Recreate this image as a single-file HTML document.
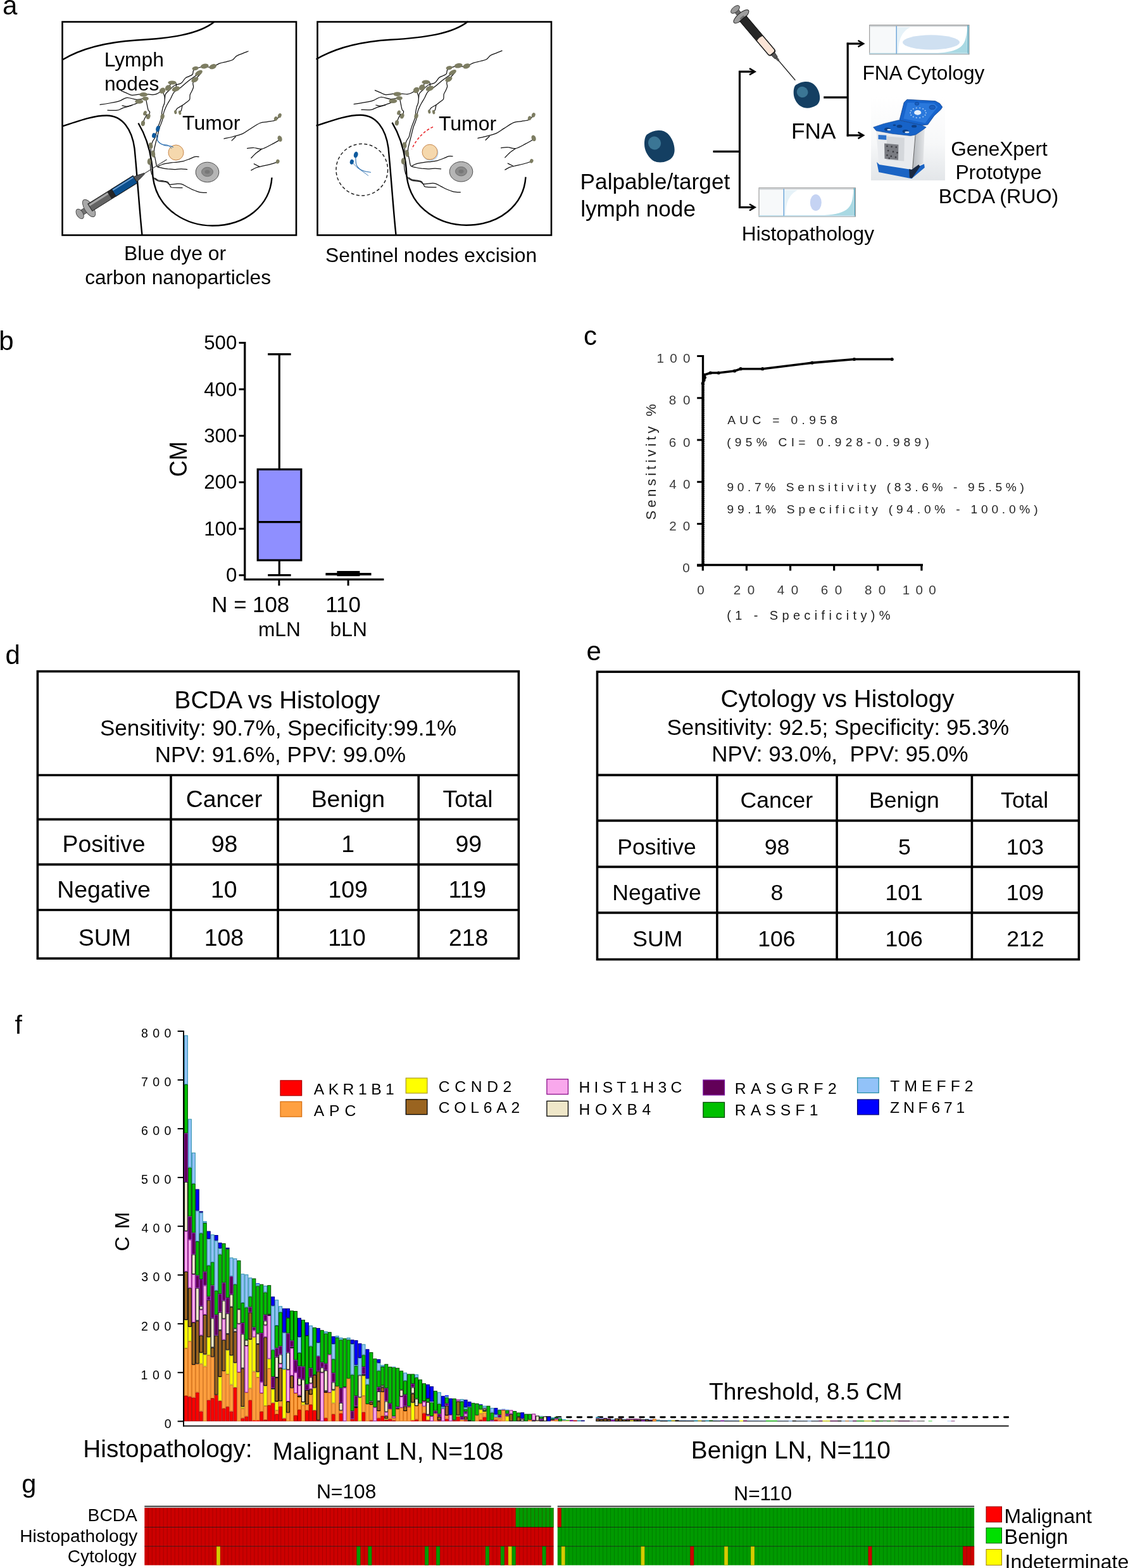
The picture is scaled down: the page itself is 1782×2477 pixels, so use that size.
<!DOCTYPE html><html><head><meta charset="utf-8"><title>Figure</title><style>html,body{margin:0;padding:0;background:#fff}::-webkit-scrollbar{display:none}svg{display:block}text{font-family:"Liberation Sans",Arial,sans-serif;white-space:pre}</style></head><body>
<svg width="1782" height="2477" viewBox="0 0 1782 2477">
<rect width="1782" height="2477" fill="#fff"/>
<text x="4.12" y="23.30" font-size="42.00" fill="#000">a</text>
<rect x="98.5" y="34.5" width="369.5" height="337.0" fill="none" stroke="#000" stroke-width="2.6"/>
<rect x="501.5" y="34.5" width="369.5" height="337.0" fill="none" stroke="#000" stroke-width="2.6"/>
<g transform="translate(98.5,34.5)">
<path d="M0,60 C30,42 70,32 117,29 C170,26 215,20 240,0" fill="none" stroke="#000" stroke-width="2.4"/>
<path d="M0,165 C30,155 50,148 70,148 C95,148 110,170 114,200 C118,240 122,300 126,337" fill="none" stroke="#000" stroke-width="2.4"/>
<path d="M120,160 C135,185 142,215 143,245 C150,300 200,322 237,322 C290,322 328,290 331,246" fill="none" stroke="#000" stroke-width="2.4"/>
<path d="M293.6,46.5 C292.1,47.1 287.5,48.8 284.4,50.1 C281.4,51.3 277.8,52.2 275.3,53.9 C272.7,55.5 271.7,58.5 269.1,60.0 C266.6,61.5 263.3,61.9 259.9,62.8 C256.6,63.7 252.0,64.4 249.2,65.4 C246.4,66.3 245.0,67.5 243.1,68.4 C241.2,69.3 239.8,70.2 237.7,70.7 C235.7,71.2 233.0,71.6 230.8,71.5 C228.7,71.4 226.7,70.0 224.7,70.0 C222.7,70.0 221.0,70.9 218.6,71.5 C216.1,72.1 211.6,73.4 210.1,73.8" fill="none" stroke="#111" stroke-width="1.25" stroke-linejoin="round" stroke-linecap="round"/>
<path d="M210.1,74.6 C209.6,74.9 207.8,75.5 207.1,76.9 C206.3,78.3 206.7,81.5 205.6,83.0 C204.4,84.5 202.1,85.0 200.2,86.1 C198.3,87.1 196.1,87.3 194.1,89.1 C192.0,90.9 190.5,95.0 187.9,96.8 C185.4,98.6 181.0,98.8 178.7,99.8 C176.4,100.9 175.7,101.6 174.1,102.9 C172.6,104.2 171.3,105.7 169.5,107.5 C167.8,109.3 164.7,111.3 163.4,113.6 C162.1,115.9 162.3,118.7 161.9,121.3 C161.5,123.8 161.6,126.7 161.1,129.0 C160.6,131.2 159.5,132.8 158.8,135.1 C158.2,137.4 157.7,140.2 157.3,142.7 C156.9,145.3 157.0,147.8 156.5,150.4 C156.0,153.0 155.1,155.5 154.2,158.1 C153.3,160.6 152.1,163.2 151.2,165.7 C150.3,168.3 149.6,170.6 148.9,173.4 C148.1,176.2 147.6,180.0 146.6,182.6 C145.5,185.1 143.8,186.4 142.7,188.7 C141.7,191.0 141.0,193.8 140.4,196.4 C139.9,198.9 139.9,200.2 139.7,204.0 C139.4,207.9 138.9,214.2 138.9,219.3 C138.9,224.4 138.9,230.3 139.7,234.7 C140.4,239.0 141.6,242.6 143.5,245.4 C145.4,248.2 147.8,250.2 151.2,251.5 C154.5,252.8 160.4,252.0 163.4,253.0 C166.5,254.1 168.0,256.2 169.5,257.6 C171.1,259.0 169.3,260.7 172.6,261.5 C175.9,262.2 186.7,262.1 189.5,262.2" fill="none" stroke="#111" stroke-width="1.25" stroke-linejoin="round" stroke-linecap="round"/>
<path d="M218.6,79.9 C217.0,80.9 212.7,83.8 209.4,86.1 C206.1,88.4 202.2,90.9 198.7,93.7 C195.1,96.5 190.7,100.6 187.9,102.9 C185.1,105.2 183.8,106.0 181.8,107.5 C179.8,109.0 177.5,109.8 175.7,112.1 C173.9,114.4 172.6,118.5 171.1,121.3 C169.5,124.1 167.8,126.7 166.5,129.0 C165.2,131.2 164.4,132.8 163.4,135.1 C162.4,137.4 161.1,139.9 160.4,142.7 C159.6,145.5 159.5,149.1 158.8,151.9 C158.2,154.7 157.4,157.0 156.5,159.6 C155.6,162.1 154.4,164.4 153.5,167.3 C152.6,170.1 151.9,173.4 151.2,176.4 C150.4,179.5 149.6,182.6 148.9,185.6 C148.1,188.7 147.2,192.0 146.6,194.8 C145.9,197.6 145.2,199.7 145.0,202.5 C144.9,205.3 145.4,208.9 145.8,211.7 C146.2,214.5 146.7,216.5 147.3,219.3 C148.0,222.1 148.0,226.6 149.6,228.5 C151.3,230.4 154.5,230.2 157.3,230.8 C160.1,231.5 162.9,232.0 166.5,232.4 C170.1,232.7 175.2,233.1 178.7,233.1 C182.3,233.1 184.9,232.4 187.9,232.4 C191.0,232.4 195.6,233.0 197.1,233.1" fill="none" stroke="#111" stroke-width="1.25" stroke-linejoin="round" stroke-linecap="round"/>
<path d="M218.6,81.5 C217.0,83.2 211.4,89.6 209.4,92.2 C207.3,94.7 206.7,95.0 206.3,96.8 C205.9,98.6 207.3,100.9 207.1,102.9 C206.8,105.0 205.7,107.0 204.8,109.0 C203.9,111.1 202.4,112.9 201.7,115.2 C201.1,117.5 202.0,120.8 201.0,122.8 C199.9,124.9 197.5,125.9 195.6,127.4 C193.7,129.0 191.8,130.5 189.5,132.0 C187.2,133.5 183.6,135.1 181.8,136.6 C180.0,138.1 179.3,140.4 178.7,141.2" fill="none" stroke="#111" stroke-width="1.25" stroke-linejoin="round" stroke-linecap="round"/>
<path d="M189.5,132.0 C189.2,133.3 188.6,137.9 187.9,139.7 C187.3,141.5 186.0,142.2 185.6,142.7" fill="none" stroke="#111" stroke-width="1.25" stroke-linejoin="round" stroke-linecap="round"/>
<path d="M157.3,109.0 C156.0,109.8 151.9,112.6 149.6,113.6 C147.3,114.7 145.8,115.0 143.5,115.2 C141.2,115.3 138.1,114.4 135.8,114.4 C133.5,114.4 132.0,115.2 129.7,115.2 C127.4,115.2 125.4,114.3 122.1,114.4 C118.7,114.5 113.4,116.3 109.8,115.9 C106.2,115.5 103.4,113.2 100.6,112.1 C97.8,111.0 94.2,109.5 92.9,109.0" fill="none" stroke="#111" stroke-width="1.25" stroke-linejoin="round" stroke-linecap="round"/>
<path d="M131.2,120.5 C128.9,120.9 122.3,123.0 117.5,122.8 C112.6,122.7 106.7,119.4 102.1,119.8 C97.5,120.1 95.0,123.6 89.9,125.1 C84.8,126.7 76.6,128.0 71.5,129.0 C66.4,129.9 61.5,130.5 59.6,130.8" fill="none" stroke="#111" stroke-width="1.25" stroke-linejoin="round" stroke-linecap="round"/>
<path d="M120.5,127.4 C119.2,127.9 115.9,129.5 112.9,130.5 C109.8,131.5 105.2,133.2 102.1,133.5 C99.1,133.9 95.8,132.5 94.5,132.3" fill="none" stroke="#111" stroke-width="1.25" stroke-linejoin="round" stroke-linecap="round"/>
<path d="M109.8,132.0 C107.2,132.8 98.3,135.3 94.5,136.6 C90.7,137.9 90.6,139.2 86.8,139.7 C83.0,140.2 74.1,139.7 71.5,139.7" fill="none" stroke="#111" stroke-width="1.25" stroke-linejoin="round" stroke-linecap="round"/>
<path d="M132.0,122.1 C132.4,124.0 133.7,130.6 134.3,133.5 C135.0,136.5 135.2,138.1 135.8,139.7 C136.5,141.2 138.1,141.2 138.1,142.7 C138.1,144.3 136.7,148.1 135.8,148.9 C135.0,149.6 133.7,148.1 132.8,147.3 C131.9,146.6 130.9,144.8 130.5,144.3" fill="none" stroke="#111" stroke-width="1.25" stroke-linejoin="round" stroke-linecap="round"/>
<path d="M133.5,146.6 C132.9,147.7 130.7,151.2 129.7,153.5 C128.7,155.8 127.8,159.2 127.4,160.4" fill="none" stroke="#111" stroke-width="1.25" stroke-linejoin="round" stroke-linecap="round"/>
<path d="M215.5,213.2 C214.5,213.2 211.7,212.7 209.4,213.2 C207.1,213.7 204.8,215.1 201.7,216.3 C198.7,217.4 194.3,219.2 191.0,220.1 C187.7,221.0 184.9,221.3 181.8,221.6 C178.7,222.0 175.7,222.0 172.6,222.4 C169.5,222.8 166.0,223.4 163.4,223.9 C160.9,224.4 159.3,224.7 157.3,225.5 C155.2,226.2 152.2,228.0 151.2,228.5" fill="none" stroke="#111" stroke-width="1.25" stroke-linejoin="round" stroke-linecap="round"/>
<path d="M227.8,269.9 C226.0,269.8 220.6,269.9 217.0,269.1 C213.5,268.4 209.6,266.7 206.3,265.3 C203.0,263.9 200.2,262.2 197.1,260.7 C194.1,259.2 191.0,256.9 187.9,256.1 C184.9,255.3 181.8,256.0 178.7,256.1 C175.7,256.2 171.6,257.4 169.5,256.9 C167.5,256.4 168.0,253.9 166.5,253.0 C165.0,252.2 162.9,252.0 160.4,251.5 C157.8,251.0 153.5,250.7 151.2,250.0 C148.9,249.2 147.3,247.4 146.6,246.9" fill="none" stroke="#111" stroke-width="1.25" stroke-linejoin="round" stroke-linecap="round"/>
<path d="M167.2,104.4 C168.3,103.0 171.3,97.3 173.4,96.0 C175.4,94.7 178.5,95.1 179.5,96.8 C180.5,98.4 179.5,104.4 179.5,106.0" fill="none" stroke="#111" stroke-width="1.25" stroke-linejoin="round" stroke-linecap="round"/>
<path d="M158.1,108.7 C158.6,110.1 160.5,114.6 161.1,116.7 C161.8,118.8 161.8,120.5 161.9,121.3" fill="none" stroke="#111" stroke-width="1.25" stroke-linejoin="round" stroke-linecap="round"/>
<path d="M255.4,184.6 C257.7,184.0 264.3,182.8 269.1,181.5 C274.0,180.2 279.9,178.9 284.5,176.9 C289.1,174.9 292.1,172.0 296.7,169.2 C301.3,166.4 307.4,161.9 312.0,160.0 C316.6,158.2 320.2,158.7 324.3,157.9 C328.4,157.1 333.5,156.9 336.5,155.5 C339.6,154.0 341.7,150.3 342.7,149.3" fill="none" stroke="#111" stroke-width="1.25" stroke-linejoin="round" stroke-linecap="round"/>
<path d="M267.6,187.6 L273.7,181.5" fill="none" stroke="#111" stroke-width="1.25" stroke-linejoin="round" stroke-linecap="round"/>
<path d="M292.1,199.9 C293.9,199.7 299.0,198.8 302.8,199.0 C306.7,199.1 310.5,201.7 315.1,200.8 C319.7,199.9 325.6,196.2 330.4,193.7 C335.3,191.3 341.9,187.4 344.2,186.1" fill="none" stroke="#111" stroke-width="1.25" stroke-linejoin="round" stroke-linecap="round"/>
<path d="M315.1,200.8 C313.6,201.9 308.7,205.1 305.9,207.5 C303.1,209.9 299.5,213.9 298.3,215.2" fill="none" stroke="#111" stroke-width="1.25" stroke-linejoin="round" stroke-linecap="round"/>
<path d="M298.3,234.5 C299.5,233.8 303.4,231.5 305.9,230.5 C308.5,229.5 310.0,229.2 313.6,228.4 C317.1,227.5 322.9,226.5 327.4,225.3 C331.8,224.1 338.1,222.0 340.2,221.3" fill="none" stroke="#111" stroke-width="1.25" stroke-linejoin="round" stroke-linecap="round"/>
<path d="M312.0,229.0 L302.8,224.4" fill="none" stroke="#111" stroke-width="1.25" stroke-linejoin="round" stroke-linecap="round"/>
<ellipse cx="224.7" cy="70.0" rx="6.5" ry="3.8" transform="rotate(-10 224.7 70.0)" fill="#7d7d62"/>
<ellipse cx="237.7" cy="70.7" rx="6.0" ry="3.8" transform="rotate(-20 237.7 70.7)" fill="#7d7d62"/>
<ellipse cx="210.1" cy="73.5" rx="5.1" ry="3.1" transform="rotate(-10 210.1 73.5)" fill="#7d7d62"/>
<ellipse cx="215.5" cy="80.7" rx="6.5" ry="3.4" transform="rotate(-30 215.5 80.7)" fill="#7d7d62"/>
<ellipse cx="209.4" cy="91.4" rx="6.0" ry="3.8" transform="rotate(-30 209.4 91.4)" fill="#7d7d62"/>
<ellipse cx="173.4" cy="96.0" rx="6.5" ry="3.1" transform="rotate(0 173.4 96.0)" fill="#7d7d62"/>
<ellipse cx="167.2" cy="104.4" rx="5.1" ry="4.3" transform="rotate(-40 167.2 104.4)" fill="#7d7d62"/>
<ellipse cx="158.1" cy="108.7" rx="5.1" ry="4.3" transform="rotate(-40 158.1 108.7)" fill="#7d7d62"/>
<ellipse cx="179.5" cy="106.0" rx="6.5" ry="3.8" transform="rotate(-20 179.5 106.0)" fill="#7d7d62"/>
<ellipse cx="128.2" cy="114.9" rx="6.5" ry="3.4" transform="rotate(0 128.2 114.9)" fill="#7d7d62"/>
<ellipse cx="131.2" cy="121.3" rx="5.1" ry="3.1" transform="rotate(0 131.2 121.3)" fill="#7d7d62"/>
<ellipse cx="121.3" cy="125.9" rx="6.5" ry="3.4" transform="rotate(0 121.3 125.9)" fill="#7d7d62"/>
<ellipse cx="130.5" cy="144.3" rx="2.6" ry="3.8" transform="rotate(20 130.5 144.3)" fill="#7d7d62"/>
<ellipse cx="135.8" cy="149.6" rx="3.1" ry="4.3" transform="rotate(20 135.8 149.6)" fill="#7d7d62"/>
<ellipse cx="127.4" cy="160.4" rx="3.1" ry="4.3" transform="rotate(10 127.4 160.4)" fill="#7d7d62"/>
<ellipse cx="158.1" cy="149.6" rx="3.1" ry="4.3" transform="rotate(15 158.1 149.6)" fill="#7d7d62"/>
<ellipse cx="178.7" cy="142.7" rx="2.1" ry="3.1" transform="rotate(-10 178.7 142.7)" fill="#7d7d62"/>
<ellipse cx="185.6" cy="143.5" rx="2.1" ry="3.4" transform="rotate(-10 185.6 143.5)" fill="#7d7d62"/>
<ellipse cx="139.7" cy="195.6" rx="3.1" ry="4.8" transform="rotate(-10 139.7 195.6)" fill="#7d7d62"/>
<ellipse cx="143.5" cy="208.6" rx="3.1" ry="5.7" transform="rotate(-10 143.5 208.6)" fill="#7d7d62"/>
<ellipse cx="137.4" cy="220.9" rx="3.1" ry="5.1" transform="rotate(0 137.4 220.9)" fill="#7d7d62"/>
<ellipse cx="343.3" cy="148.1" rx="2.8" ry="3.7" transform="rotate(20 343.3 148.1)" fill="#7d7d62"/>
<ellipse cx="337.2" cy="153.0" rx="2.8" ry="3.4" transform="rotate(20 337.2 153.0)" fill="#7d7d62"/>
<ellipse cx="343.6" cy="184.6" rx="3.4" ry="4.9" transform="rotate(-20 343.6 184.6)" fill="#7d7d62"/>
<ellipse cx="340.2" cy="220.7" rx="2.8" ry="3.4" transform="rotate(20 340.2 220.7)" fill="#7d7d62"/>
<ellipse cx="229" cy="237.5" rx="18.3" ry="15.8" fill="#b5b5b5" stroke="#4d4d4d" stroke-width="1"/>
<ellipse cx="229" cy="237" rx="9" ry="7.2" fill="#8a8a8a" stroke="#666" stroke-width="0.8"/>
<ellipse cx="229" cy="237" rx="4" ry="3" fill="#777"/>
<circle cx="179.5" cy="206.5" r="12" fill="#f5d8ad" stroke="#c8874c" stroke-width="1"/>
<ellipse cx="150.9" cy="168.8" rx="3.1" ry="5" transform="rotate(15 150.9 168.8)" fill="#0d5a9e"/>
<ellipse cx="144.7" cy="179.5" rx="3.1" ry="3.9" transform="rotate(15 144.7 179.5)" fill="#0d5a9e"/>
<path d="M151.2,178.0 C151.0,179.5 149.9,184.9 150.4,187.2 C150.9,189.5 152.6,190.5 154.2,191.8 C155.9,193.0 158.6,194.2 160.4,194.8 C162.1,195.5 163.2,195.3 165.0,195.6 C166.7,195.8 169.4,196.0 171.1,196.4 C172.7,196.7 174.3,197.6 174.9,197.9" fill="none" stroke="#2a6eb0" stroke-width="1.1" stroke-linejoin="round" stroke-linecap="round"/>
<path d="M148.9,179.5 C149.0,180.7 148.2,184.1 149.6,186.4 C151.0,188.7 154.5,191.9 157.3,193.3 C160.1,194.7 163.9,193.7 166.5,194.8 C169.0,196.0 171.6,199.3 172.6,200.2" fill="none" stroke="#2a6eb0" stroke-width="0.9" stroke-linejoin="round" stroke-linecap="round"/>
</g>
<g transform="translate(126.2,337.9) rotate(-32.04)">
<rect x="0" y="-4.2" width="15" height="8.4" fill="#727272" stroke="#333" stroke-width="0.8"/>
<ellipse cx="0" cy="0" rx="5" ry="8.5" fill="#a3a3a3" stroke="#444" stroke-width="0.9"/>
<ellipse cx="17" cy="0" rx="7" ry="15.5" fill="#a8a8a8" stroke="#444" stroke-width="0.9"/>
<rect x="19" y="-6.6" width="84" height="13.2" fill="#646464" stroke="#222" stroke-width="1"/>
<rect x="20" y="-5.2" width="36" height="3" fill="#a8a8a8"/>
<rect x="55" y="-6.6" width="8" height="13.2" fill="#262626"/>
<rect x="63" y="-6.6" width="40" height="13.2" fill="#0b4f8e" stroke="#1a1a1a" stroke-width="1"/>
<rect x="64" y="-5.1" width="38" height="1.8" fill="#6d9ccc"/>
<path d="M103,-4.6 L111,-3.2 L116,-1.8 L120,-1 L120,1 L116,1.8 L111,3.2 L103,4.6 Z" fill="#555" stroke="#222" stroke-width="0.8"/>
<line x1="119" y1="0" x2="162" y2="0" stroke="#444" stroke-width="1.2"/>
</g>
<g transform="translate(499.5,33.7)">
<path d="M0,60 C30,42 70,32 117,29 C170,26 215,20 240,0" fill="none" stroke="#000" stroke-width="2.4"/>
<path d="M0,165 C30,155 50,148 70,148 C95,148 110,170 114,200 C118,240 122,300 126,337" fill="none" stroke="#000" stroke-width="2.4"/>
<path d="M120,160 C135,185 142,215 143,245 C150,300 200,322 237,322 C290,322 328,290 331,246" fill="none" stroke="#000" stroke-width="2.4"/>
<path d="M293.6,46.5 C292.1,47.1 287.5,48.8 284.4,50.1 C281.4,51.3 277.8,52.2 275.3,53.9 C272.7,55.5 271.7,58.5 269.1,60.0 C266.6,61.5 263.3,61.9 259.9,62.8 C256.6,63.7 252.0,64.4 249.2,65.4 C246.4,66.3 245.0,67.5 243.1,68.4 C241.2,69.3 239.8,70.2 237.7,70.7 C235.7,71.2 233.0,71.6 230.8,71.5 C228.7,71.4 226.7,70.0 224.7,70.0 C222.7,70.0 221.0,70.9 218.6,71.5 C216.1,72.1 211.6,73.4 210.1,73.8" fill="none" stroke="#111" stroke-width="1.25" stroke-linejoin="round" stroke-linecap="round"/>
<path d="M210.1,74.6 C209.6,74.9 207.8,75.5 207.1,76.9 C206.3,78.3 206.7,81.5 205.6,83.0 C204.4,84.5 202.1,85.0 200.2,86.1 C198.3,87.1 196.1,87.3 194.1,89.1 C192.0,90.9 190.5,95.0 187.9,96.8 C185.4,98.6 181.0,98.8 178.7,99.8 C176.4,100.9 175.7,101.6 174.1,102.9 C172.6,104.2 171.3,105.7 169.5,107.5 C167.8,109.3 164.7,111.3 163.4,113.6 C162.1,115.9 162.3,118.7 161.9,121.3 C161.5,123.8 161.6,126.7 161.1,129.0 C160.6,131.2 159.5,132.8 158.8,135.1 C158.2,137.4 157.7,140.2 157.3,142.7 C156.9,145.3 157.0,147.8 156.5,150.4 C156.0,153.0 155.1,155.5 154.2,158.1 C153.3,160.6 152.1,163.2 151.2,165.7 C150.3,168.3 149.6,170.6 148.9,173.4 C148.1,176.2 147.6,180.0 146.6,182.6 C145.5,185.1 143.8,186.4 142.7,188.7 C141.7,191.0 141.0,193.8 140.4,196.4 C139.9,198.9 139.9,200.2 139.7,204.0 C139.4,207.9 138.9,214.2 138.9,219.3 C138.9,224.4 138.9,230.3 139.7,234.7 C140.4,239.0 141.6,242.6 143.5,245.4 C145.4,248.2 147.8,250.2 151.2,251.5 C154.5,252.8 160.4,252.0 163.4,253.0 C166.5,254.1 168.0,256.2 169.5,257.6 C171.1,259.0 169.3,260.7 172.6,261.5 C175.9,262.2 186.7,262.1 189.5,262.2" fill="none" stroke="#111" stroke-width="1.25" stroke-linejoin="round" stroke-linecap="round"/>
<path d="M218.6,79.9 C217.0,80.9 212.7,83.8 209.4,86.1 C206.1,88.4 202.2,90.9 198.7,93.7 C195.1,96.5 190.7,100.6 187.9,102.9 C185.1,105.2 183.8,106.0 181.8,107.5 C179.8,109.0 177.5,109.8 175.7,112.1 C173.9,114.4 172.6,118.5 171.1,121.3 C169.5,124.1 167.8,126.7 166.5,129.0 C165.2,131.2 164.4,132.8 163.4,135.1 C162.4,137.4 161.1,139.9 160.4,142.7 C159.6,145.5 159.5,149.1 158.8,151.9 C158.2,154.7 157.4,157.0 156.5,159.6 C155.6,162.1 154.4,164.4 153.5,167.3 C152.6,170.1 151.9,173.4 151.2,176.4 C150.4,179.5 149.6,182.6 148.9,185.6 C148.1,188.7 147.2,192.0 146.6,194.8 C145.9,197.6 145.2,199.7 145.0,202.5 C144.9,205.3 145.4,208.9 145.8,211.7 C146.2,214.5 146.7,216.5 147.3,219.3 C148.0,222.1 148.0,226.6 149.6,228.5 C151.3,230.4 154.5,230.2 157.3,230.8 C160.1,231.5 162.9,232.0 166.5,232.4 C170.1,232.7 175.2,233.1 178.7,233.1 C182.3,233.1 184.9,232.4 187.9,232.4 C191.0,232.4 195.6,233.0 197.1,233.1" fill="none" stroke="#111" stroke-width="1.25" stroke-linejoin="round" stroke-linecap="round"/>
<path d="M218.6,81.5 C217.0,83.2 211.4,89.6 209.4,92.2 C207.3,94.7 206.7,95.0 206.3,96.8 C205.9,98.6 207.3,100.9 207.1,102.9 C206.8,105.0 205.7,107.0 204.8,109.0 C203.9,111.1 202.4,112.9 201.7,115.2 C201.1,117.5 202.0,120.8 201.0,122.8 C199.9,124.9 197.5,125.9 195.6,127.4 C193.7,129.0 191.8,130.5 189.5,132.0 C187.2,133.5 183.6,135.1 181.8,136.6 C180.0,138.1 179.3,140.4 178.7,141.2" fill="none" stroke="#111" stroke-width="1.25" stroke-linejoin="round" stroke-linecap="round"/>
<path d="M189.5,132.0 C189.2,133.3 188.6,137.9 187.9,139.7 C187.3,141.5 186.0,142.2 185.6,142.7" fill="none" stroke="#111" stroke-width="1.25" stroke-linejoin="round" stroke-linecap="round"/>
<path d="M157.3,109.0 C156.0,109.8 151.9,112.6 149.6,113.6 C147.3,114.7 145.8,115.0 143.5,115.2 C141.2,115.3 138.1,114.4 135.8,114.4 C133.5,114.4 132.0,115.2 129.7,115.2 C127.4,115.2 125.4,114.3 122.1,114.4 C118.7,114.5 113.4,116.3 109.8,115.9 C106.2,115.5 103.4,113.2 100.6,112.1 C97.8,111.0 94.2,109.5 92.9,109.0" fill="none" stroke="#111" stroke-width="1.25" stroke-linejoin="round" stroke-linecap="round"/>
<path d="M131.2,120.5 C128.9,120.9 122.3,123.0 117.5,122.8 C112.6,122.7 106.7,119.4 102.1,119.8 C97.5,120.1 95.0,123.6 89.9,125.1 C84.8,126.7 76.6,128.0 71.5,129.0 C66.4,129.9 61.5,130.5 59.6,130.8" fill="none" stroke="#111" stroke-width="1.25" stroke-linejoin="round" stroke-linecap="round"/>
<path d="M120.5,127.4 C119.2,127.9 115.9,129.5 112.9,130.5 C109.8,131.5 105.2,133.2 102.1,133.5 C99.1,133.9 95.8,132.5 94.5,132.3" fill="none" stroke="#111" stroke-width="1.25" stroke-linejoin="round" stroke-linecap="round"/>
<path d="M109.8,132.0 C107.2,132.8 98.3,135.3 94.5,136.6 C90.7,137.9 90.6,139.2 86.8,139.7 C83.0,140.2 74.1,139.7 71.5,139.7" fill="none" stroke="#111" stroke-width="1.25" stroke-linejoin="round" stroke-linecap="round"/>
<path d="M132.0,122.1 C132.4,124.0 133.7,130.6 134.3,133.5 C135.0,136.5 135.2,138.1 135.8,139.7 C136.5,141.2 138.1,141.2 138.1,142.7 C138.1,144.3 136.7,148.1 135.8,148.9 C135.0,149.6 133.7,148.1 132.8,147.3 C131.9,146.6 130.9,144.8 130.5,144.3" fill="none" stroke="#111" stroke-width="1.25" stroke-linejoin="round" stroke-linecap="round"/>
<path d="M133.5,146.6 C132.9,147.7 130.7,151.2 129.7,153.5 C128.7,155.8 127.8,159.2 127.4,160.4" fill="none" stroke="#111" stroke-width="1.25" stroke-linejoin="round" stroke-linecap="round"/>
<path d="M215.5,213.2 C214.5,213.2 211.7,212.7 209.4,213.2 C207.1,213.7 204.8,215.1 201.7,216.3 C198.7,217.4 194.3,219.2 191.0,220.1 C187.7,221.0 184.9,221.3 181.8,221.6 C178.7,222.0 175.7,222.0 172.6,222.4 C169.5,222.8 166.0,223.4 163.4,223.9 C160.9,224.4 159.3,224.7 157.3,225.5 C155.2,226.2 152.2,228.0 151.2,228.5" fill="none" stroke="#111" stroke-width="1.25" stroke-linejoin="round" stroke-linecap="round"/>
<path d="M227.8,269.9 C226.0,269.8 220.6,269.9 217.0,269.1 C213.5,268.4 209.6,266.7 206.3,265.3 C203.0,263.9 200.2,262.2 197.1,260.7 C194.1,259.2 191.0,256.9 187.9,256.1 C184.9,255.3 181.8,256.0 178.7,256.1 C175.7,256.2 171.6,257.4 169.5,256.9 C167.5,256.4 168.0,253.9 166.5,253.0 C165.0,252.2 162.9,252.0 160.4,251.5 C157.8,251.0 153.5,250.7 151.2,250.0 C148.9,249.2 147.3,247.4 146.6,246.9" fill="none" stroke="#111" stroke-width="1.25" stroke-linejoin="round" stroke-linecap="round"/>
<path d="M167.2,104.4 C168.3,103.0 171.3,97.3 173.4,96.0 C175.4,94.7 178.5,95.1 179.5,96.8 C180.5,98.4 179.5,104.4 179.5,106.0" fill="none" stroke="#111" stroke-width="1.25" stroke-linejoin="round" stroke-linecap="round"/>
<path d="M158.1,108.7 C158.6,110.1 160.5,114.6 161.1,116.7 C161.8,118.8 161.8,120.5 161.9,121.3" fill="none" stroke="#111" stroke-width="1.25" stroke-linejoin="round" stroke-linecap="round"/>
<path d="M255.4,184.6 C257.7,184.0 264.3,182.8 269.1,181.5 C274.0,180.2 279.9,178.9 284.5,176.9 C289.1,174.9 292.1,172.0 296.7,169.2 C301.3,166.4 307.4,161.9 312.0,160.0 C316.6,158.2 320.2,158.7 324.3,157.9 C328.4,157.1 333.5,156.9 336.5,155.5 C339.6,154.0 341.7,150.3 342.7,149.3" fill="none" stroke="#111" stroke-width="1.25" stroke-linejoin="round" stroke-linecap="round"/>
<path d="M267.6,187.6 L273.7,181.5" fill="none" stroke="#111" stroke-width="1.25" stroke-linejoin="round" stroke-linecap="round"/>
<path d="M292.1,199.9 C293.9,199.7 299.0,198.8 302.8,199.0 C306.7,199.1 310.5,201.7 315.1,200.8 C319.7,199.9 325.6,196.2 330.4,193.7 C335.3,191.3 341.9,187.4 344.2,186.1" fill="none" stroke="#111" stroke-width="1.25" stroke-linejoin="round" stroke-linecap="round"/>
<path d="M315.1,200.8 C313.6,201.9 308.7,205.1 305.9,207.5 C303.1,209.9 299.5,213.9 298.3,215.2" fill="none" stroke="#111" stroke-width="1.25" stroke-linejoin="round" stroke-linecap="round"/>
<path d="M298.3,234.5 C299.5,233.8 303.4,231.5 305.9,230.5 C308.5,229.5 310.0,229.2 313.6,228.4 C317.1,227.5 322.9,226.5 327.4,225.3 C331.8,224.1 338.1,222.0 340.2,221.3" fill="none" stroke="#111" stroke-width="1.25" stroke-linejoin="round" stroke-linecap="round"/>
<path d="M312.0,229.0 L302.8,224.4" fill="none" stroke="#111" stroke-width="1.25" stroke-linejoin="round" stroke-linecap="round"/>
<ellipse cx="224.7" cy="70.0" rx="6.5" ry="3.8" transform="rotate(-10 224.7 70.0)" fill="#7d7d62"/>
<ellipse cx="237.7" cy="70.7" rx="6.0" ry="3.8" transform="rotate(-20 237.7 70.7)" fill="#7d7d62"/>
<ellipse cx="210.1" cy="73.5" rx="5.1" ry="3.1" transform="rotate(-10 210.1 73.5)" fill="#7d7d62"/>
<ellipse cx="215.5" cy="80.7" rx="6.5" ry="3.4" transform="rotate(-30 215.5 80.7)" fill="#7d7d62"/>
<ellipse cx="209.4" cy="91.4" rx="6.0" ry="3.8" transform="rotate(-30 209.4 91.4)" fill="#7d7d62"/>
<ellipse cx="173.4" cy="96.0" rx="6.5" ry="3.1" transform="rotate(0 173.4 96.0)" fill="#7d7d62"/>
<ellipse cx="167.2" cy="104.4" rx="5.1" ry="4.3" transform="rotate(-40 167.2 104.4)" fill="#7d7d62"/>
<ellipse cx="158.1" cy="108.7" rx="5.1" ry="4.3" transform="rotate(-40 158.1 108.7)" fill="#7d7d62"/>
<ellipse cx="179.5" cy="106.0" rx="6.5" ry="3.8" transform="rotate(-20 179.5 106.0)" fill="#7d7d62"/>
<ellipse cx="128.2" cy="114.9" rx="6.5" ry="3.4" transform="rotate(0 128.2 114.9)" fill="#7d7d62"/>
<ellipse cx="131.2" cy="121.3" rx="5.1" ry="3.1" transform="rotate(0 131.2 121.3)" fill="#7d7d62"/>
<ellipse cx="121.3" cy="125.9" rx="6.5" ry="3.4" transform="rotate(0 121.3 125.9)" fill="#7d7d62"/>
<ellipse cx="130.5" cy="144.3" rx="2.6" ry="3.8" transform="rotate(20 130.5 144.3)" fill="#7d7d62"/>
<ellipse cx="135.8" cy="149.6" rx="3.1" ry="4.3" transform="rotate(20 135.8 149.6)" fill="#7d7d62"/>
<ellipse cx="127.4" cy="160.4" rx="3.1" ry="4.3" transform="rotate(10 127.4 160.4)" fill="#7d7d62"/>
<ellipse cx="158.1" cy="149.6" rx="3.1" ry="4.3" transform="rotate(15 158.1 149.6)" fill="#7d7d62"/>
<ellipse cx="178.7" cy="142.7" rx="2.1" ry="3.1" transform="rotate(-10 178.7 142.7)" fill="#7d7d62"/>
<ellipse cx="185.6" cy="143.5" rx="2.1" ry="3.4" transform="rotate(-10 185.6 143.5)" fill="#7d7d62"/>
<ellipse cx="139.7" cy="195.6" rx="3.1" ry="4.8" transform="rotate(-10 139.7 195.6)" fill="#7d7d62"/>
<ellipse cx="143.5" cy="208.6" rx="3.1" ry="5.7" transform="rotate(-10 143.5 208.6)" fill="#7d7d62"/>
<ellipse cx="137.4" cy="220.9" rx="3.1" ry="5.1" transform="rotate(0 137.4 220.9)" fill="#7d7d62"/>
<ellipse cx="343.3" cy="148.1" rx="2.8" ry="3.7" transform="rotate(20 343.3 148.1)" fill="#7d7d62"/>
<ellipse cx="337.2" cy="153.0" rx="2.8" ry="3.4" transform="rotate(20 337.2 153.0)" fill="#7d7d62"/>
<ellipse cx="343.6" cy="184.6" rx="3.4" ry="4.9" transform="rotate(-20 343.6 184.6)" fill="#7d7d62"/>
<ellipse cx="340.2" cy="220.7" rx="2.8" ry="3.4" transform="rotate(20 340.2 220.7)" fill="#7d7d62"/>
<ellipse cx="229" cy="237.5" rx="18.3" ry="15.8" fill="#b5b5b5" stroke="#4d4d4d" stroke-width="1"/>
<ellipse cx="229" cy="237" rx="9" ry="7.2" fill="#8a8a8a" stroke="#666" stroke-width="0.8"/>
<ellipse cx="229" cy="237" rx="4" ry="3" fill="#777"/>
<circle cx="180.5" cy="208" r="12.5" fill="#9fc3e8" opacity="0.6"/>
<circle cx="179.5" cy="206.5" r="12" fill="#f5d8ad" stroke="#c8874c" stroke-width="1"/>
</g>
<circle cx="571.8" cy="268.1" r="40.8" fill="none" stroke="#222" stroke-width="1.5" stroke-dasharray="5,3.5"/>
<ellipse cx="562.2" cy="244.5" rx="3.3" ry="5" transform="rotate(15 562.2 244.5)" fill="#0d5a9e"/>
<ellipse cx="555.8" cy="255.8" rx="3" ry="4" transform="rotate(15 555.8 255.8)" fill="#0d5a9e"/>
<g transform="translate(501.5,34.5)">
<path d="M60.3,213.8 C60.5,215.8 60.4,222.4 61.4,225.4 C62.3,228.4 63.9,230.1 66.0,231.8 C68.1,233.6 70.7,234.7 73.7,235.7 C76.7,236.7 82.3,237.4 84.0,237.8" fill="none" stroke="#2a6eb0" stroke-width="1.1" stroke-linejoin="round" stroke-linecap="round"/>
<path d="M55.7,222.8 C57.0,224.1 60.6,228.2 63.4,230.6 C66.2,232.9 69.6,234.9 72.4,237.0 C75.2,239.0 78.9,241.9 80.1,242.9" fill="none" stroke="#2a6eb0" stroke-width="0.9" stroke-linejoin="round" stroke-linecap="round"/>
<path d="M182.5,166 C170,172 158,182 149,201" fill="none" stroke="#e8262a" stroke-width="1.6" stroke-dasharray="4,3"/>
</g>
<text x="164.69" y="104.70" font-size="31.81" fill="#000">Lymph</text>
<text x="164.89" y="142.80" font-size="31.81" fill="#000">nodes</text>
<text x="288.08" y="204.90" font-size="32.00" fill="#000">Tumor</text>
<text x="692.88" y="205.60" font-size="32.00" fill="#000">Tumor</text>
<text x="195.88" y="410.80" font-size="31.90" fill="#000">Blue dye or</text>
<text x="134.15" y="448.80" font-size="31.67" fill="#000">carbon nanoparticles</text>
<text x="514.06" y="413.75" font-size="31.81" fill="#000">Sentinel nodes excision</text>
<g transform="translate(1042.0,231.5) scale(1.000,1.000)"><path d="M-2,-25.5 C10,-26 17,-18 21,-8 C25,3 25,14 17,20 C8,26 -4,27 -12,21 C-19,15 -24,6 -24,-4 C-24,-13 -22,-17 -20,-19 C-14,-23 -8,-25.5 -2,-25.5 Z" fill="#143f62"/><ellipse cx="-8" cy="-5.5" rx="10" ry="10.5" transform="rotate(-25 -8 -5.5)" fill="#3b7695"/></g>
<g transform="translate(1274.6,150.0) scale(0.872,0.827)"><path d="M-2,-25.5 C10,-26 17,-18 21,-8 C25,3 25,14 17,20 C8,26 -4,27 -12,21 C-19,15 -24,6 -24,-4 C-24,-13 -22,-17 -20,-19 C-14,-23 -8,-25.5 -2,-25.5 Z" fill="#143f62"/><ellipse cx="-8" cy="-5.5" rx="10" ry="10.5" transform="rotate(-25 -8 -5.5)" fill="#3b7695"/></g>
<path d="M1126.5,239.3 L1168.5,239.3 M1168.5,112 L1168.5,329" stroke="#000" stroke-width="3.2" fill="none"/>
<path d="M1167.0,113.2 L1191.0,113.2" stroke="#000" stroke-width="3.2" fill="none"/>
<path d="M1184.0,108.2 L1192.5,113.2 L1184.0,118.2" stroke="#000" stroke-width="2.6" fill="none" stroke-linejoin="miter"/>
<path d="M1167.0,327.5 L1191.0,327.5" stroke="#000" stroke-width="3.2" fill="none"/>
<path d="M1184.0,322.5 L1192.5,327.5 L1184.0,332.5" stroke="#000" stroke-width="2.6" fill="none" stroke-linejoin="miter"/>
<path d="M1301.2,153.8 L1339.2,153.8 M1339.2,67.5 L1339.2,215.5" stroke="#000" stroke-width="3.2" fill="none"/>
<path d="M1337.8,69.0 L1362.5,69.0" stroke="#000" stroke-width="3.2" fill="none"/>
<path d="M1355.5,64.0 L1364.0,69.0 L1355.5,74.0" stroke="#000" stroke-width="2.6" fill="none" stroke-linejoin="miter"/>
<path d="M1337.8,213.8 L1362.5,213.8" stroke="#000" stroke-width="3.2" fill="none"/>
<path d="M1355.5,208.8 L1364.0,213.8 L1355.5,218.8" stroke="#000" stroke-width="2.6" fill="none" stroke-linejoin="miter"/>
<g transform="translate(1161.5,14.9) rotate(49.7)">
<rect x="0" y="-3.8" width="15" height="7.6" fill="#6a6a6a" stroke="#333" stroke-width="0.8"/>
<ellipse cx="0" cy="0" rx="4.3" ry="8.3" fill="#9a9a9a" stroke="#333" stroke-width="0.9"/>
<ellipse cx="14.6" cy="0" rx="5.5" ry="15" fill="#9d9d9d" stroke="#222" stroke-width="1"/>
<rect x="15.5" y="-3.8" width="4" height="7.6" fill="#6a6a6a"/>
<path d="M19,-6.6 L88,-6.6 Q92,-6.6 92,-3 L92,3 Q92,6.6 88,6.6 L19,6.6 Z" fill="#262626" stroke="#111" stroke-width="1"/>
<path d="M60,-5.5 Q58,0 60,5.5 L87.5,5.5 Q90.5,5.5 90.5,2.5 L90.5,-2.5 Q90.5,-5.5 87.5,-5.5 Z" fill="#fbe4d6"/>
<path d="M92,-3.4 L100,-2.6 L100,2.6 L92,3.4 Z" fill="#555" stroke="#222" stroke-width="0.8"/>
<path d="M100,-1.8 L106,-1.2 L106,1.2 L100,1.8 Z" fill="#555" stroke="#222" stroke-width="0.6"/>
<line x1="106" y1="0" x2="146.7" y2="0" stroke="#222" stroke-width="1.3"/>
</g>
<g transform="translate(1198.5,296.3)">
<rect x="0.5" y="0.5" width="152.4" height="45.3" fill="#f7f9fa" stroke="#8a8a8a" stroke-width="1"/>
<rect x="1" y="1" width="151.4" height="2.2" fill="#c9cdd0"/>
<rect x="150.0" y="1" width="2.4" height="44.3" fill="#6fb3c7"/>
<rect x="39.8" y="3.2" width="110.2" height="41.8" fill="#ffffff"/>
<path d="M61.8,4 C45.8,12 42.8,28 42.8,43.3 L40.8,43.3 L40.8,4 Z" fill="#e6f2f8"/>
<path d="M149.4,6 C148.4,30 143.4,41.3 103.4,43.8 L149.9,43.8 Z" fill="#a9d9e3"/>
<rect x="0" y="43.8" width="151.4" height="1.6" fill="#b9dbe8"/>
<line x1="39.8" y1="2" x2="39.8" y2="44.8" stroke="#5b9bd5" stroke-width="1.3"/>
<ellipse cx="90.3" cy="23.7" rx="9" ry="13" fill="#c5d3f3"/>
</g>
<g transform="translate(1373.2,39.1)">
<rect x="0.5" y="0.5" width="157.3" height="46.1" fill="#f7f9fa" stroke="#8a8a8a" stroke-width="1"/>
<rect x="1" y="1" width="156.3" height="2.2" fill="#c9cdd0"/>
<rect x="154.9" y="1" width="2.4" height="45.1" fill="#6fb3c7"/>
<rect x="43.0" y="3.2" width="111.9" height="42.6" fill="#ffffff"/>
<path d="M65.0,4 C49.0,12 46.0,28 46.0,44.1 L44.0,44.1 L44.0,4 Z" fill="#e6f2f8"/>
<path d="M154.3,6 C153.3,30 148.3,42.1 108.3,44.6 L154.8,44.6 Z" fill="#a9d9e3"/>
<rect x="0" y="44.6" width="156.3" height="1.6" fill="#b9dbe8"/>
<line x1="43.0" y1="2" x2="43.0" y2="45.6" stroke="#5b9bd5" stroke-width="1.3"/>
<ellipse cx="97.8" cy="27.8" rx="45" ry="11.6" fill="#cfe0f1"/>
</g>
<defs><linearGradient id="gxs" x1="0" x2="1" y1="0" y2="0"><stop offset="0" stop-color="#b4b8bd"/><stop offset="1" stop-color="#e4e6e8"/></linearGradient><linearGradient id="gxbg" x1="0" x2="0" y1="0" y2="1"><stop offset="0" stop-color="#ffffff"/><stop offset="0.55" stop-color="#f7f8f9"/><stop offset="1" stop-color="#e3e6e9"/></linearGradient></defs>
<rect x="1376" y="153.5" width="117" height="131.5" fill="url(#gxbg)"/>
<polygon points="1428.2,161.9 1432.9,157.2 1477.5,159.6 1484.7,163.5 1488.7,169.1 1486.3,173.1 1475.9,182.7 1465.6,197.0 1456.0,197.8 1421.0,189.8" fill="#1764cc" stroke="#0c3f8c" stroke-width="0.8"/>
<polygon points="1433.7,161.9 1475.9,163.5 1481.5,169.1 1469.6,183.5 1461.6,194.6 1427.4,187.4" fill="#2a78dc"/>
<ellipse cx="1449.7" cy="177.9" rx="5.6" ry="3.8" fill="#e6f0fb"/>
<circle cx="1462.8" cy="178.3" r="1.0" fill="#a9cdf2"/>
<circle cx="1461.6" cy="181.7" r="1.0" fill="#a9cdf2"/>
<circle cx="1458.2" cy="184.5" r="1.0" fill="#a9cdf2"/>
<circle cx="1453.2" cy="186.0" r="1.0" fill="#a9cdf2"/>
<circle cx="1447.7" cy="186.0" r="1.0" fill="#a9cdf2"/>
<circle cx="1442.8" cy="184.5" r="1.0" fill="#a9cdf2"/>
<circle cx="1439.3" cy="181.7" r="1.0" fill="#a9cdf2"/>
<circle cx="1438.1" cy="178.3" r="1.0" fill="#a9cdf2"/>
<circle cx="1439.3" cy="174.8" r="1.0" fill="#a9cdf2"/>
<circle cx="1442.8" cy="172.1" r="1.0" fill="#a9cdf2"/>
<circle cx="1447.7" cy="170.5" r="1.0" fill="#a9cdf2"/>
<circle cx="1453.2" cy="170.5" r="1.0" fill="#a9cdf2"/>
<circle cx="1458.2" cy="172.1" r="1.0" fill="#a9cdf2"/>
<circle cx="1461.6" cy="174.8" r="1.0" fill="#a9cdf2"/>
<ellipse cx="1472.8" cy="169.5" rx="4.6" ry="3.2" fill="#1a5fc0" stroke="#0c3f8c" stroke-width="0.7"/>
<ellipse cx="1448.5" cy="163.9" rx="3.2" ry="2.4" fill="#1a5fc0" stroke="#0c3f8c" stroke-width="0.7"/>
<polygon points="1384.3,206.6 1446.5,212.9 1441.7,267.1 1388.3,259.1" fill="#e9ebee"/>
<polygon points="1446.5,212.9 1460.8,202.6 1458.4,258.3 1441.7,267.1" fill="url(#gxs)"/>
<line x1="1446.1" y1="213.7" x2="1441.7" y2="266.3" stroke="#555" stroke-width="0.9"/>
<polygon points="1379.6,201.0 1396.3,195.4 1419.4,189.8 1456.0,197.8 1463.2,201.0 1459.2,204.2 1446.5,212.9 1438.5,214.5 1409.8,211.3 1384.3,206.6" fill="#1763c8" stroke="#0c3f8c" stroke-width="0.6"/>
<ellipse cx="1401.9" cy="204.2" rx="4.8" ry="2.7" fill="#0d3f86"/>
<ellipse cx="1421.0" cy="199.4" rx="4.4" ry="2.5" fill="#0d3f86"/>
<ellipse cx="1430.5" cy="207.4" rx="4.8" ry="2.7" fill="#0d3f86"/>
<ellipse cx="1444.1" cy="199.4" rx="4.0" ry="2.2" fill="#0d3f86"/>
<ellipse cx="1413.0" cy="197.8" rx="2.4" ry="1.3" fill="#0d3f86"/>
<ellipse cx="1404.3" cy="205.0" rx="3" ry="1.2" fill="#dde6ef"/>
<ellipse cx="1432.9" cy="208.9" rx="3.5" ry="1.3" fill="#dde6ef"/>
<polygon points="1387.5,212.9 1400.3,213.7 1400.3,220.9 1387.5,220.1" fill="#2d73cc"/>
<polygon points="1401.1,215.3 1428.9,217.7 1428.2,254.4 1400.3,252.8" fill="#d4d7db"/>
<polygon points="1397.1,226.5 1419.4,228.5 1419.0,252.8 1397.5,250.8" fill="#7a7c82"/>
<rect x="1400.3" y="229.7" width="2.4" height="2.4" fill="#3c3d42"/>
<rect x="1407.4" y="230.5" width="2.4" height="2.4" fill="#3c3d42"/>
<rect x="1414.6" y="231.3" width="2.4" height="2.4" fill="#3c3d42"/>
<rect x="1401.9" y="236.8" width="2.4" height="2.4" fill="#3c3d42"/>
<rect x="1409.8" y="238.4" width="2.4" height="2.4" fill="#3c3d42"/>
<rect x="1416.2" y="240.0" width="2.4" height="2.4" fill="#3c3d42"/>
<rect x="1400.3" y="244.0" width="2.4" height="2.4" fill="#3c3d42"/>
<rect x="1406.6" y="245.6" width="2.4" height="2.4" fill="#3c3d42"/>
<rect x="1413.8" y="247.2" width="2.4" height="2.4" fill="#3c3d42"/>
<rect x="1403.5" y="248.8" width="2.4" height="2.4" fill="#3c3d42"/>
<polygon points="1385.1,255.9 1389.1,259.9 1440.1,267.9 1460.0,259.1 1460.8,264.7 1440.1,282.2 1388.3,271.9" fill="#1b64c4"/>
<polygon points="1436.1,267.1 1440.1,267.9 1451.3,259.9 1453.6,263.1 1440.9,281.4 1436.9,280.6" fill="#1a2942"/>
<text x="916.61" y="298.75" font-size="35.18" fill="#000">Palpable/target</text>
<text x="917.13" y="341.50" font-size="35.19" fill="#000">lymph node</text>
<text x="1250.11" y="218.75" font-size="35.23" fill="#000">FNA</text>
<text x="1362.41" y="126.25" font-size="31.56" fill="#000">FNA Cytology</text>
<text x="1171.81" y="380.00" font-size="31.63" fill="#000">Histopathology</text>
<text x="1502.16" y="245.50" font-size="31.55" fill="#000">GeneXpert</text>
<text x="1509.39" y="283.00" font-size="31.84" fill="#000">Prototype</text>
<text x="1482.86" y="321.25" font-size="32.15" fill="#000">BCDA (RUO)</text>
<text x="-1.81" y="553.30" font-size="42.00" fill="#000">b</text>
<path d="M386.75,540 L386.75,916.9 M385.1,915.3 L606.4,915.3" stroke="#000" stroke-width="3.3" fill="none"/>
<line x1="377.5" y1="908.70" x2="386.75" y2="908.70" stroke="#000" stroke-width="3"/>
<text x="356.97" y="919.30" font-size="31.20" fill="#000">0</text>
<line x1="377.5" y1="835.26" x2="386.75" y2="835.26" stroke="#000" stroke-width="3"/>
<text x="322.26" y="845.86" font-size="31.20" fill="#000">100</text>
<line x1="377.5" y1="761.82" x2="386.75" y2="761.82" stroke="#000" stroke-width="3"/>
<text x="322.26" y="772.42" font-size="31.20" fill="#000">200</text>
<line x1="377.5" y1="688.38" x2="386.75" y2="688.38" stroke="#000" stroke-width="3"/>
<text x="322.26" y="698.98" font-size="31.20" fill="#000">300</text>
<line x1="377.5" y1="614.94" x2="386.75" y2="614.94" stroke="#000" stroke-width="3"/>
<text x="322.26" y="625.54" font-size="31.20" fill="#000">400</text>
<line x1="377.5" y1="541.50" x2="386.75" y2="541.50" stroke="#000" stroke-width="3"/>
<text x="322.26" y="552.10" font-size="31.20" fill="#000">500</text>
<line x1="440.9" y1="915.3" x2="440.9" y2="925.2" stroke="#000" stroke-width="3"/>
<line x1="550.1" y1="915.3" x2="550.1" y2="925.2" stroke="#000" stroke-width="3"/>
<line x1="441.25" y1="559.6" x2="441.25" y2="741.5" stroke="#000" stroke-width="3.2"/>
<line x1="423.1" y1="559.6" x2="459.6" y2="559.6" stroke="#000" stroke-width="3.2"/>
<line x1="441.25" y1="885" x2="441.25" y2="908.7" stroke="#000" stroke-width="3.2"/>
<line x1="423.2" y1="908.7" x2="459.6" y2="908.7" stroke="#000" stroke-width="3.2"/>
<rect x="407.2" y="741.5" width="68.6" height="143.5" fill="#8f8fff" stroke="#000" stroke-width="3.2"/>
<line x1="407.2" y1="824.6" x2="475.8" y2="824.6" stroke="#000" stroke-width="3.2"/>
<line x1="514.4" y1="907.1" x2="586.5" y2="907.1" stroke="#000" stroke-width="4"/>
<rect x="532.4" y="902" width="36" height="8.2" fill="#000"/>
<text x="292.77" y="751.20" font-size="38.10" fill="#000" textLength="55.76" lengthAdjust="spacingAndGlyphs" transform="rotate(-90 294.70 751.20)">CM</text>
<text x="334.34" y="967.10" font-size="34.80" fill="#000">N = 108</text>
<text x="514.35" y="967.10" font-size="34.77" fill="#000">110</text>
<text x="407.97" y="1004.60" font-size="30.50" fill="#000" textLength="66.89" lengthAdjust="spacingAndGlyphs">mLN</text>
<text x="521.63" y="1004.60" font-size="30.50" fill="#000" textLength="58.23" lengthAdjust="spacingAndGlyphs">bLN</text>
<text x="922.12" y="545.30" font-size="42.00" fill="#000">c</text>
<path d="M1110.5,561 L1110.5,894.3 M1101.1,892.5 L1458,892.5" stroke="#000" stroke-width="3.3" fill="none"/>
<line x1="1101.2" y1="893.75" x2="1110.5" y2="893.75" stroke="#000" stroke-width="3"/>
<line x1="1110.30" y1="892.5" x2="1110.30" y2="901.5" stroke="#000" stroke-width="3.2"/>
<line x1="1101.2" y1="827.50" x2="1110.5" y2="827.50" stroke="#000" stroke-width="3"/>
<line x1="1179.42" y1="892.5" x2="1179.42" y2="901.5" stroke="#000" stroke-width="3.2"/>
<line x1="1101.2" y1="761.25" x2="1110.5" y2="761.25" stroke="#000" stroke-width="3"/>
<line x1="1248.54" y1="892.5" x2="1248.54" y2="901.5" stroke="#000" stroke-width="3.2"/>
<line x1="1101.2" y1="695.00" x2="1110.5" y2="695.00" stroke="#000" stroke-width="3"/>
<line x1="1317.66" y1="892.5" x2="1317.66" y2="901.5" stroke="#000" stroke-width="3.2"/>
<line x1="1101.2" y1="628.75" x2="1110.5" y2="628.75" stroke="#000" stroke-width="3"/>
<line x1="1386.78" y1="892.5" x2="1386.78" y2="901.5" stroke="#000" stroke-width="3.2"/>
<line x1="1101.2" y1="562.50" x2="1110.5" y2="562.50" stroke="#000" stroke-width="3"/>
<line x1="1455.90" y1="892.5" x2="1455.90" y2="901.5" stroke="#000" stroke-width="3.2"/>
<text x="1037.43" y="573.20" font-size="20.60" fill="#3a3a3a" textLength="53.07" lengthAdjust="spacing">100</text>
<text x="1056.80" y="639.45" font-size="20.60" fill="#3a3a3a" textLength="33.70" lengthAdjust="spacing">80</text>
<text x="1056.65" y="705.70" font-size="20.60" fill="#3a3a3a" textLength="33.85" lengthAdjust="spacing">60</text>
<text x="1057.23" y="771.95" font-size="20.60" fill="#3a3a3a" textLength="33.28" lengthAdjust="spacing">40</text>
<text x="1057.16" y="838.20" font-size="20.60" fill="#3a3a3a" textLength="33.14" lengthAdjust="spacing">20</text>
<text x="1078.20" y="904.45" font-size="20.60" fill="#3a3a3a" textLength="12.11" lengthAdjust="spacing">0</text>
<text x="1101.20" y="938.50" font-size="20.60" fill="#3a3a3a" textLength="12.01" lengthAdjust="spacing">0</text>
<text x="1158.86" y="938.50" font-size="20.60" fill="#3a3a3a" textLength="33.44" lengthAdjust="spacing">20</text>
<text x="1227.73" y="938.50" font-size="20.60" fill="#3a3a3a" textLength="33.48" lengthAdjust="spacing">40</text>
<text x="1296.75" y="938.50" font-size="20.60" fill="#3a3a3a" textLength="33.45" lengthAdjust="spacing">60</text>
<text x="1366.10" y="938.50" font-size="20.60" fill="#3a3a3a" textLength="33.00" lengthAdjust="spacing">80</text>
<text x="1425.83" y="938.50" font-size="20.60" fill="#3a3a3a" textLength="52.87" lengthAdjust="spacing">100</text>
<text x="1148.26" y="979.20" font-size="20.00" fill="#222" textLength="258.35" lengthAdjust="spacing">(1 - Specificity)%</text>
<text x="1035.10" y="820.30" font-size="22.00" fill="#222" textLength="183.18" lengthAdjust="spacing" transform="rotate(-90 1036.10 820.30)">Sensitivity %</text>
<text x="1149.16" y="669.60" font-size="19.20" fill="#222" textLength="173.67" lengthAdjust="spacing">AUC = 0.958</text>
<text x="1148.21" y="705.00" font-size="19.20" fill="#222" textLength="319.58" lengthAdjust="spacing">(95% CI= 0.928-0.989)</text>
<text x="1148.50" y="775.90" font-size="19.20" fill="#222" textLength="469.29" lengthAdjust="spacing">90.7% Sensitivity (83.6% - 95.5%)</text>
<text x="1148.50" y="811.25" font-size="19.20" fill="#222" textLength="491.09" lengthAdjust="spacing">99.1% Specificity (94.0% - 100.0%)</text>
<path d="M1110.3,893.8 L1110.3,887.1 L1110.3,860.6 L1110.3,827.5 L1110.3,794.4 L1110.3,761.2 L1110.3,728.1 L1110.3,695.0 L1110.3,661.9 L1110.3,628.8 L1110.3,605.6 L1112.0,600.6 L1113.4,596.3 L1112.7,592.3 L1122.4,589.0 L1135.2,589.0 L1160.4,586.0 L1170.1,582.7 L1204.6,582.7 L1283.1,573.1 L1349.5,567.5 L1409.2,567.5" fill="none" stroke="#000" stroke-width="3.6" stroke-linejoin="round"/>
<circle cx="1110.3" cy="605.6" r="2.6" fill="#000"/>
<circle cx="1112.0" cy="600.6" r="2.6" fill="#000"/>
<circle cx="1113.4" cy="596.3" r="2.6" fill="#000"/>
<circle cx="1112.7" cy="592.3" r="2.6" fill="#000"/>
<circle cx="1122.4" cy="589.0" r="2.6" fill="#000"/>
<circle cx="1135.2" cy="589.0" r="2.6" fill="#000"/>
<circle cx="1160.4" cy="586.0" r="2.6" fill="#000"/>
<circle cx="1170.1" cy="582.7" r="2.6" fill="#000"/>
<circle cx="1204.6" cy="582.7" r="2.6" fill="#000"/>
<circle cx="1283.1" cy="573.1" r="2.6" fill="#000"/>
<circle cx="1349.5" cy="567.5" r="2.6" fill="#000"/>
<circle cx="1409.2" cy="567.5" r="2.6" fill="#000"/>
<line x1="1110.8" y1="893.8" x2="1110.8" y2="602.2" stroke="#000" stroke-width="4.4" stroke-dasharray="2,1.2"/>
<text x="8.54" y="1049.40" font-size="42.00" fill="#000">d</text>
<text x="926.52" y="1043.20" font-size="42.00" fill="#000">e</text>
<rect x="59.40" y="1060.60" width="760.00" height="453.50" fill="none" stroke="#000" stroke-width="3.6"/>
<line x1="59.40" y1="1224.50" x2="819.40" y2="1224.50" stroke="#000" stroke-width="3.6"/>
<line x1="59.40" y1="1294.40" x2="819.40" y2="1294.40" stroke="#000" stroke-width="3.6"/>
<line x1="59.40" y1="1365.60" x2="819.40" y2="1365.60" stroke="#000" stroke-width="3.6"/>
<line x1="59.40" y1="1437.50" x2="819.40" y2="1437.50" stroke="#000" stroke-width="3.6"/>
<line x1="270.00" y1="1224.50" x2="270.00" y2="1514.10" stroke="#000" stroke-width="3.6"/>
<line x1="439.10" y1="1224.50" x2="439.10" y2="1514.10" stroke="#000" stroke-width="3.6"/>
<line x1="661.25" y1="1224.50" x2="661.25" y2="1514.10" stroke="#000" stroke-width="3.6"/>
<rect x="943.50" y="1061.25" width="760.90" height="454.35" fill="none" stroke="#000" stroke-width="3.6"/>
<line x1="943.50" y1="1224.40" x2="1704.40" y2="1224.40" stroke="#000" stroke-width="3.6"/>
<line x1="943.50" y1="1296.40" x2="1704.40" y2="1296.40" stroke="#000" stroke-width="3.6"/>
<line x1="943.50" y1="1369.40" x2="1704.40" y2="1369.40" stroke="#000" stroke-width="3.6"/>
<line x1="943.50" y1="1441.90" x2="1704.40" y2="1441.90" stroke="#000" stroke-width="3.6"/>
<line x1="1132.90" y1="1224.40" x2="1132.90" y2="1515.60" stroke="#000" stroke-width="3.6"/>
<line x1="1322.10" y1="1224.40" x2="1322.10" y2="1515.60" stroke="#000" stroke-width="3.6"/>
<line x1="1535.40" y1="1224.40" x2="1535.40" y2="1515.60" stroke="#000" stroke-width="3.6"/>
<text x="275.57" y="1118.75" font-size="38.71" fill="#000">BCDA vs Histology</text>
<text x="157.91" y="1161.75" font-size="35.07" fill="#000">Sensitivity: 90.7%, Specificity:99.1%</text>
<text x="244.63" y="1204.25" font-size="35.03" fill="#000">NPV: 91.6%, PPV: 99.0%</text>
<text x="1138.54" y="1116.75" font-size="38.61" fill="#000">Cytology vs Histology</text>
<text x="1053.41" y="1160.50" font-size="35.00" fill="#000">Sensitivity: 92.5; Specificity: 95.3%</text>
<text x="1124.13" y="1203.00" font-size="34.98" fill="#000">NPV: 93.0%,  PPV: 95.0%</text>
<text x="293.63" y="1274.50" font-size="37.40" fill="#000">Cancer</text>
<text x="1169.51" y="1276.25" font-size="35.60" fill="#000">Cancer</text>
<text x="491.65" y="1274.50" font-size="37.40" fill="#000">Benign</text>
<text x="1373.02" y="1276.25" font-size="35.60" fill="#000">Benign</text>
<text x="699.56" y="1274.50" font-size="37.40" fill="#000">Total</text>
<text x="1581.12" y="1276.25" font-size="35.60" fill="#000">Total</text>
<text x="98.52" y="1346.25" font-size="37.40" fill="#000">Positive</text>
<text x="975.20" y="1349.50" font-size="35.60" fill="#000">Positive</text>
<text x="333.69" y="1346.25" font-size="37.40" fill="#000">98</text>
<text x="1207.64" y="1349.50" font-size="35.60" fill="#000">98</text>
<text x="539.29" y="1346.25" font-size="37.40" fill="#000">1</text>
<text x="1418.89" y="1349.50" font-size="35.60" fill="#000">5</text>
<text x="719.51" y="1346.25" font-size="37.40" fill="#000">99</text>
<text x="1589.63" y="1349.50" font-size="35.60" fill="#000">103</text>
<text x="90.19" y="1417.50" font-size="37.40" fill="#000">Negative</text>
<text x="967.28" y="1422.00" font-size="35.60" fill="#000">Negative</text>
<text x="333.06" y="1417.50" font-size="37.40" fill="#000">10</text>
<text x="1217.60" y="1422.00" font-size="35.60" fill="#000">8</text>
<text x="518.46" y="1417.50" font-size="37.40" fill="#000">109</text>
<text x="1398.56" y="1422.00" font-size="35.60" fill="#000">101</text>
<text x="708.56" y="1417.50" font-size="37.40" fill="#000">119</text>
<text x="1589.69" y="1422.00" font-size="35.60" fill="#000">109</text>
<text x="123.83" y="1493.75" font-size="37.40" fill="#000">SUM</text>
<text x="999.30" y="1495.00" font-size="35.60" fill="#000">SUM</text>
<text x="322.74" y="1493.75" font-size="37.40" fill="#000">108</text>
<text x="1197.23" y="1495.00" font-size="35.60" fill="#000">106</text>
<text x="518.31" y="1493.75" font-size="37.40" fill="#000">110</text>
<text x="1398.48" y="1495.00" font-size="35.60" fill="#000">106</text>
<text x="708.97" y="1493.75" font-size="37.40" fill="#000">218</text>
<text x="1590.20" y="1495.00" font-size="35.60" fill="#000">212</text>
<text x="23.42" y="1632.50" font-size="41.00" fill="#000">f</text>
<line x1="858" y1="2238.8" x2="1592.7" y2="2238.8" stroke="#000" stroke-width="2.9" stroke-dasharray="6.6,9.85" stroke-dashoffset="11.7" stroke-linecap="round"/>
<rect x="291.40" y="2205.43" width="4.97" height="39.37" fill="#ff0000" stroke="#b00000" stroke-width="1"/>
<rect x="291.40" y="2130.50" width="4.97" height="73.93" fill="#ffa040" stroke="#d87010" stroke-width="1"/>
<rect x="291.40" y="2085.54" width="4.97" height="43.96" fill="#ffff00" stroke="#b0a020" stroke-width="1"/>
<rect x="291.40" y="2009.25" width="4.97" height="75.29" fill="#9a6420" stroke="#000000" stroke-width="1"/>
<rect x="291.40" y="1945.21" width="4.97" height="63.03" fill="#f9a8ec" stroke="#8a108a" stroke-width="1"/>
<rect x="291.40" y="1867.56" width="4.97" height="76.66" fill="#efe7c9" stroke="#000000" stroke-width="1"/>
<rect x="291.40" y="1790.72" width="4.97" height="75.84" fill="#620058" stroke="#7a10a0" stroke-width="1"/>
<rect x="291.40" y="1713.61" width="4.97" height="76.11" fill="#00c000" stroke="#004800" stroke-width="1"/>
<rect x="291.40" y="1635.95" width="4.97" height="76.66" fill="#92c2f8" stroke="#2a90a8" stroke-width="1"/>
<rect x="297.37" y="2206.79" width="4.97" height="38.01" fill="#ff0000" stroke="#b00000" stroke-width="1"/>
<rect x="297.37" y="2119.60" width="4.97" height="86.19" fill="#ffa040" stroke="#d87010" stroke-width="1"/>
<rect x="297.37" y="2096.44" width="4.97" height="22.16" fill="#ffff00" stroke="#b0a020" stroke-width="1"/>
<rect x="297.37" y="2035.13" width="4.97" height="60.31" fill="#9a6420" stroke="#000000" stroke-width="1"/>
<rect x="297.37" y="1958.84" width="4.97" height="75.29" fill="#f9a8ec" stroke="#8a108a" stroke-width="1"/>
<rect x="297.37" y="1922.05" width="4.97" height="35.78" fill="#620058" stroke="#7a10a0" stroke-width="1"/>
<rect x="297.37" y="1844.94" width="4.97" height="76.11" fill="#00c000" stroke="#004800" stroke-width="1"/>
<rect x="297.37" y="1768.10" width="4.97" height="75.84" fill="#92c2f8" stroke="#2a90a8" stroke-width="1"/>
<rect x="303.34" y="2208.16" width="4.97" height="36.64" fill="#ff0000" stroke="#b00000" stroke-width="1"/>
<rect x="303.34" y="2156.39" width="4.97" height="50.77" fill="#ffa040" stroke="#d87010" stroke-width="1"/>
<rect x="303.34" y="2089.63" width="4.97" height="65.76" fill="#9a6420" stroke="#000000" stroke-width="1"/>
<rect x="303.34" y="2013.33" width="4.97" height="75.29" fill="#f9a8ec" stroke="#8a108a" stroke-width="1"/>
<rect x="303.34" y="1982.00" width="4.97" height="30.34" fill="#efe7c9" stroke="#000000" stroke-width="1"/>
<rect x="303.34" y="1947.94" width="4.97" height="33.06" fill="#620058" stroke="#7a10a0" stroke-width="1"/>
<rect x="303.34" y="1870.28" width="4.97" height="76.66" fill="#00c000" stroke="#004800" stroke-width="1"/>
<rect x="303.34" y="1821.24" width="4.97" height="48.05" fill="#92c2f8" stroke="#2a90a8" stroke-width="1"/>
<rect x="309.31" y="2199.98" width="4.97" height="44.82" fill="#ff0000" stroke="#b00000" stroke-width="1"/>
<rect x="309.31" y="2155.02" width="4.97" height="43.96" fill="#ffa040" stroke="#d87010" stroke-width="1"/>
<rect x="309.31" y="2086.90" width="4.97" height="67.12" fill="#9a6420" stroke="#000000" stroke-width="1"/>
<rect x="309.31" y="2035.13" width="4.97" height="50.77" fill="#efe7c9" stroke="#000000" stroke-width="1"/>
<rect x="309.31" y="2015.24" width="4.97" height="18.89" fill="#620058" stroke="#7a10a0" stroke-width="1"/>
<rect x="309.31" y="1961.56" width="4.97" height="52.68" fill="#00c000" stroke="#004800" stroke-width="1"/>
<rect x="309.31" y="1913.06" width="4.97" height="47.50" fill="#92c2f8" stroke="#2a90a8" stroke-width="1"/>
<rect x="309.31" y="1879.00" width="4.97" height="33.06" fill="#0000ff" stroke="#000078" stroke-width="1"/>
<rect x="315.28" y="2229.96" width="4.97" height="14.84" fill="#ff0000" stroke="#b00000" stroke-width="1"/>
<rect x="315.28" y="2155.02" width="4.97" height="73.93" fill="#ffa040" stroke="#d87010" stroke-width="1"/>
<rect x="315.28" y="2137.31" width="4.97" height="16.71" fill="#ffff00" stroke="#b0a020" stroke-width="1"/>
<rect x="315.28" y="2110.06" width="4.97" height="26.25" fill="#9a6420" stroke="#000000" stroke-width="1"/>
<rect x="315.28" y="2069.19" width="4.97" height="39.87" fill="#f9a8ec" stroke="#8a108a" stroke-width="1"/>
<rect x="315.28" y="2063.74" width="4.97" height="4.45" fill="#efe7c9" stroke="#000000" stroke-width="1"/>
<rect x="315.28" y="2021.51" width="4.97" height="41.23" fill="#620058" stroke="#7a10a0" stroke-width="1"/>
<rect x="315.28" y="1948.76" width="4.97" height="71.75" fill="#00c000" stroke="#004800" stroke-width="1"/>
<rect x="315.28" y="1916.06" width="4.97" height="31.70" fill="#92c2f8" stroke="#2a90a8" stroke-width="1"/>
<rect x="315.28" y="1913.88" width="4.97" height="1.18" fill="#0000ff" stroke="#000078" stroke-width="1"/>
<rect x="321.25" y="2159.11" width="4.97" height="85.69" fill="#ffa040" stroke="#d87010" stroke-width="1"/>
<rect x="321.25" y="2140.04" width="4.97" height="18.07" fill="#ffff00" stroke="#b0a020" stroke-width="1"/>
<rect x="321.25" y="2077.37" width="4.97" height="61.67" fill="#9a6420" stroke="#000000" stroke-width="1"/>
<rect x="321.25" y="2031.04" width="4.97" height="45.32" fill="#f9a8ec" stroke="#8a108a" stroke-width="1"/>
<rect x="321.25" y="2009.25" width="4.97" height="20.80" fill="#620058" stroke="#7a10a0" stroke-width="1"/>
<rect x="321.25" y="1932.41" width="4.97" height="75.84" fill="#00c000" stroke="#004800" stroke-width="1"/>
<rect x="321.25" y="1929.68" width="4.97" height="1.72" fill="#92c2f8" stroke="#2a90a8" stroke-width="1"/>
<rect x="327.22" y="2212.24" width="4.97" height="32.56" fill="#ff0000" stroke="#b00000" stroke-width="1"/>
<rect x="327.22" y="2141.40" width="4.97" height="69.84" fill="#ffa040" stroke="#d87010" stroke-width="1"/>
<rect x="327.22" y="2112.79" width="4.97" height="27.61" fill="#ffff00" stroke="#b0a020" stroke-width="1"/>
<rect x="327.22" y="2054.21" width="4.97" height="57.58" fill="#9a6420" stroke="#000000" stroke-width="1"/>
<rect x="327.22" y="2048.76" width="4.97" height="4.45" fill="#620058" stroke="#7a10a0" stroke-width="1"/>
<rect x="327.22" y="1999.71" width="4.97" height="48.05" fill="#00c000" stroke="#004800" stroke-width="1"/>
<rect x="327.22" y="1957.48" width="4.97" height="41.23" fill="#92c2f8" stroke="#2a90a8" stroke-width="1"/>
<rect x="327.22" y="1945.21" width="4.97" height="11.26" fill="#0000ff" stroke="#000078" stroke-width="1"/>
<rect x="333.19" y="2209.52" width="4.97" height="35.28" fill="#ff0000" stroke="#b00000" stroke-width="1"/>
<rect x="333.19" y="2144.12" width="4.97" height="64.40" fill="#ffa040" stroke="#d87010" stroke-width="1"/>
<rect x="333.19" y="2129.14" width="4.97" height="13.99" fill="#9a6420" stroke="#000000" stroke-width="1"/>
<rect x="333.19" y="2082.82" width="4.97" height="45.32" fill="#efe7c9" stroke="#000000" stroke-width="1"/>
<rect x="333.19" y="2031.04" width="4.97" height="50.77" fill="#620058" stroke="#7a10a0" stroke-width="1"/>
<rect x="333.19" y="1994.26" width="4.97" height="35.78" fill="#00c000" stroke="#004800" stroke-width="1"/>
<rect x="333.19" y="1950.66" width="4.97" height="42.60" fill="#92c2f8" stroke="#2a90a8" stroke-width="1"/>
<rect x="339.16" y="2204.07" width="4.97" height="40.73" fill="#ff0000" stroke="#b00000" stroke-width="1"/>
<rect x="339.16" y="2110.06" width="4.97" height="93.01" fill="#9a6420" stroke="#000000" stroke-width="1"/>
<rect x="339.16" y="2077.37" width="4.97" height="31.70" fill="#620058" stroke="#7a10a0" stroke-width="1"/>
<rect x="339.16" y="2039.22" width="4.97" height="37.15" fill="#00c000" stroke="#004800" stroke-width="1"/>
<rect x="339.16" y="1960.20" width="4.97" height="78.02" fill="#92c2f8" stroke="#2a90a8" stroke-width="1"/>
<rect x="339.16" y="1951.48" width="4.97" height="7.72" fill="#0000ff" stroke="#000078" stroke-width="1"/>
<rect x="345.13" y="2213.61" width="4.97" height="31.19" fill="#ff0000" stroke="#b00000" stroke-width="1"/>
<rect x="345.13" y="2175.46" width="4.97" height="37.15" fill="#ffff00" stroke="#b0a020" stroke-width="1"/>
<rect x="345.13" y="2101.89" width="4.97" height="72.57" fill="#9a6420" stroke="#000000" stroke-width="1"/>
<rect x="345.13" y="2073.28" width="4.97" height="27.61" fill="#efe7c9" stroke="#000000" stroke-width="1"/>
<rect x="345.13" y="2044.67" width="4.97" height="27.61" fill="#620058" stroke="#7a10a0" stroke-width="1"/>
<rect x="345.13" y="1982.00" width="4.97" height="61.67" fill="#00c000" stroke="#004800" stroke-width="1"/>
<rect x="345.13" y="1972.46" width="4.97" height="8.54" fill="#92c2f8" stroke="#2a90a8" stroke-width="1"/>
<rect x="345.13" y="1963.47" width="4.97" height="7.99" fill="#0000ff" stroke="#000078" stroke-width="1"/>
<rect x="351.10" y="2225.63" width="4.97" height="19.17" fill="#ff0000" stroke="#b00000" stroke-width="1"/>
<rect x="351.10" y="2166.34" width="4.97" height="58.29" fill="#ffa040" stroke="#d87010" stroke-width="1"/>
<rect x="351.10" y="2117.17" width="4.97" height="48.17" fill="#9a6420" stroke="#000000" stroke-width="1"/>
<rect x="351.10" y="2083.91" width="4.97" height="32.26" fill="#f9a8ec" stroke="#8a108a" stroke-width="1"/>
<rect x="351.10" y="2054.99" width="4.97" height="27.92" fill="#efe7c9" stroke="#000000" stroke-width="1"/>
<rect x="351.10" y="2026.79" width="4.97" height="27.20" fill="#620058" stroke="#7a10a0" stroke-width="1"/>
<rect x="351.10" y="1964.61" width="4.97" height="61.18" fill="#00c000" stroke="#004800" stroke-width="1"/>
<rect x="357.07" y="2222.74" width="4.97" height="22.06" fill="#ff0000" stroke="#b00000" stroke-width="1"/>
<rect x="357.07" y="2171.40" width="4.97" height="50.34" fill="#ffa040" stroke="#d87010" stroke-width="1"/>
<rect x="357.07" y="2133.08" width="4.97" height="37.32" fill="#ffff00" stroke="#b0a020" stroke-width="1"/>
<rect x="357.07" y="2107.77" width="4.97" height="24.31" fill="#9a6420" stroke="#000000" stroke-width="1"/>
<rect x="357.07" y="2075.24" width="4.97" height="31.54" fill="#efe7c9" stroke="#000000" stroke-width="1"/>
<rect x="357.07" y="2050.65" width="4.97" height="23.58" fill="#620058" stroke="#7a10a0" stroke-width="1"/>
<rect x="357.07" y="1973.72" width="4.97" height="75.93" fill="#00c000" stroke="#004800" stroke-width="1"/>
<rect x="357.07" y="1971.40" width="4.97" height="1.31" fill="#0000ff" stroke="#000078" stroke-width="1"/>
<rect x="363.04" y="2229.97" width="4.97" height="14.83" fill="#ff0000" stroke="#b00000" stroke-width="1"/>
<rect x="363.04" y="2188.03" width="4.97" height="40.94" fill="#ffa040" stroke="#d87010" stroke-width="1"/>
<rect x="363.04" y="2141.76" width="4.97" height="45.28" fill="#ffff00" stroke="#b0a020" stroke-width="1"/>
<rect x="363.04" y="2065.11" width="4.97" height="75.64" fill="#9a6420" stroke="#000000" stroke-width="1"/>
<rect x="363.04" y="2045.16" width="4.97" height="18.96" fill="#efe7c9" stroke="#000000" stroke-width="1"/>
<rect x="363.04" y="2016.67" width="4.97" height="27.49" fill="#620058" stroke="#7a10a0" stroke-width="1"/>
<rect x="363.04" y="1987.02" width="4.97" height="28.65" fill="#92c2f8" stroke="#2a90a8" stroke-width="1"/>
<rect x="369.01" y="2192.37" width="4.97" height="52.43" fill="#ff0000" stroke="#b00000" stroke-width="1"/>
<rect x="369.01" y="2153.33" width="4.97" height="38.05" fill="#ffff00" stroke="#b0a020" stroke-width="1"/>
<rect x="369.01" y="2104.16" width="4.97" height="48.17" fill="#9a6420" stroke="#000000" stroke-width="1"/>
<rect x="369.01" y="2099.10" width="4.97" height="4.06" fill="#efe7c9" stroke="#000000" stroke-width="1"/>
<rect x="369.01" y="2029.25" width="4.97" height="68.85" fill="#00c000" stroke="#004800" stroke-width="1"/>
<rect x="369.01" y="1988.47" width="4.97" height="39.78" fill="#92c2f8" stroke="#2a90a8" stroke-width="1"/>
<rect x="374.98" y="2168.51" width="4.97" height="76.29" fill="#ffa040" stroke="#d87010" stroke-width="1"/>
<rect x="374.98" y="2091.87" width="4.97" height="75.64" fill="#f9a8ec" stroke="#8a108a" stroke-width="1"/>
<rect x="374.98" y="2068.73" width="4.97" height="22.14" fill="#efe7c9" stroke="#000000" stroke-width="1"/>
<rect x="374.98" y="1991.65" width="4.97" height="76.08" fill="#00c000" stroke="#004800" stroke-width="1"/>
<rect x="380.95" y="2240.82" width="4.97" height="3.98" fill="#ff0000" stroke="#b00000" stroke-width="1"/>
<rect x="380.95" y="2225.63" width="4.97" height="14.18" fill="#ffa040" stroke="#d87010" stroke-width="1"/>
<rect x="380.95" y="2222.74" width="4.97" height="1.89" fill="#ffff00" stroke="#b0a020" stroke-width="1"/>
<rect x="380.95" y="2162.00" width="4.97" height="59.74" fill="#9a6420" stroke="#000000" stroke-width="1"/>
<rect x="380.95" y="2107.77" width="4.97" height="53.23" fill="#efe7c9" stroke="#000000" stroke-width="1"/>
<rect x="380.95" y="2090.42" width="4.97" height="16.35" fill="#620058" stroke="#7a10a0" stroke-width="1"/>
<rect x="380.95" y="2058.61" width="4.97" height="30.81" fill="#00c000" stroke="#004800" stroke-width="1"/>
<rect x="380.95" y="2012.76" width="4.97" height="44.84" fill="#92c2f8" stroke="#2a90a8" stroke-width="1"/>
<rect x="386.92" y="2237.93" width="4.97" height="6.87" fill="#ff0000" stroke="#b00000" stroke-width="1"/>
<rect x="386.92" y="2200.33" width="4.97" height="36.60" fill="#ffa040" stroke="#d87010" stroke-width="1"/>
<rect x="386.92" y="2126.57" width="4.97" height="72.75" fill="#f9a8ec" stroke="#8a108a" stroke-width="1"/>
<rect x="386.92" y="2117.17" width="4.97" height="8.40" fill="#efe7c9" stroke="#000000" stroke-width="1"/>
<rect x="386.92" y="2065.84" width="4.97" height="50.34" fill="#00c000" stroke="#004800" stroke-width="1"/>
<rect x="386.92" y="2013.78" width="4.97" height="51.06" fill="#92c2f8" stroke="#2a90a8" stroke-width="1"/>
<rect x="392.89" y="2212.62" width="4.97" height="32.18" fill="#ff0000" stroke="#b00000" stroke-width="1"/>
<rect x="392.89" y="2193.82" width="4.97" height="17.80" fill="#ffa040" stroke="#d87010" stroke-width="1"/>
<rect x="392.89" y="2116.45" width="4.97" height="76.37" fill="#ffff00" stroke="#b0a020" stroke-width="1"/>
<rect x="392.89" y="2073.79" width="4.97" height="41.66" fill="#9a6420" stroke="#000000" stroke-width="1"/>
<rect x="392.89" y="2065.11" width="4.97" height="7.68" fill="#620058" stroke="#7a10a0" stroke-width="1"/>
<rect x="392.89" y="2048.77" width="4.97" height="15.34" fill="#00c000" stroke="#004800" stroke-width="1"/>
<rect x="392.89" y="2018.84" width="4.97" height="28.93" fill="#92c2f8" stroke="#2a90a8" stroke-width="1"/>
<rect x="398.36" y="2243.93" width="5.97" height="1.37" fill="#ff0000"/>
<rect x="398.86" y="2167.07" width="4.97" height="76.37" fill="#ffa040" stroke="#d87010" stroke-width="1"/>
<rect x="398.86" y="2112.84" width="4.97" height="53.23" fill="#ffff00" stroke="#b0a020" stroke-width="1"/>
<rect x="398.86" y="2101.99" width="4.97" height="9.85" fill="#f9a8ec" stroke="#8a108a" stroke-width="1"/>
<rect x="398.86" y="2097.22" width="4.97" height="3.77" fill="#620058" stroke="#7a10a0" stroke-width="1"/>
<rect x="398.86" y="2019.99" width="4.97" height="76.22" fill="#00c000" stroke="#004800" stroke-width="1"/>
<rect x="404.33" y="2243.93" width="5.97" height="1.37" fill="#ff0000"/>
<rect x="404.83" y="2176.47" width="4.97" height="66.97" fill="#ffa040" stroke="#d87010" stroke-width="1"/>
<rect x="404.83" y="2167.79" width="4.97" height="7.68" fill="#ffff00" stroke="#b0a020" stroke-width="1"/>
<rect x="404.83" y="2123.68" width="4.97" height="43.11" fill="#9a6420" stroke="#000000" stroke-width="1"/>
<rect x="404.83" y="2107.05" width="4.97" height="15.63" fill="#efe7c9" stroke="#000000" stroke-width="1"/>
<rect x="404.83" y="2031.85" width="4.97" height="74.20" fill="#00c000" stroke="#004800" stroke-width="1"/>
<rect x="404.83" y="2028.24" width="4.97" height="2.62" fill="#92c2f8" stroke="#2a90a8" stroke-width="1"/>
<rect x="404.33" y="2027.01" width="5.97" height="0.72" fill="#0000ff"/>
<rect x="410.80" y="2230.41" width="4.97" height="14.39" fill="#ff0000" stroke="#b00000" stroke-width="1"/>
<rect x="410.80" y="2201.46" width="4.97" height="27.95" fill="#ffa040" stroke="#d87010" stroke-width="1"/>
<rect x="410.80" y="2183.74" width="4.97" height="16.72" fill="#f9a8ec" stroke="#8a108a" stroke-width="1"/>
<rect x="410.80" y="2106.34" width="4.97" height="76.40" fill="#620058" stroke="#7a10a0" stroke-width="1"/>
<rect x="410.80" y="2029.18" width="4.97" height="76.16" fill="#00c000" stroke="#004800" stroke-width="1"/>
<rect x="416.77" y="2243.41" width="4.97" height="1.39" fill="#ff0000" stroke="#b00000" stroke-width="1"/>
<rect x="416.77" y="2221.55" width="4.97" height="20.86" fill="#ffa040" stroke="#d87010" stroke-width="1"/>
<rect x="416.77" y="2189.65" width="4.97" height="30.90" fill="#ffff00" stroke="#b0a020" stroke-width="1"/>
<rect x="416.77" y="2112.84" width="4.97" height="75.80" fill="#9a6420" stroke="#000000" stroke-width="1"/>
<rect x="416.77" y="2093.93" width="4.97" height="17.91" fill="#f9a8ec" stroke="#8a108a" stroke-width="1"/>
<rect x="416.77" y="2086.85" width="4.97" height="6.09" fill="#efe7c9" stroke="#000000" stroke-width="1"/>
<rect x="416.77" y="2077.39" width="4.97" height="8.45" fill="#620058" stroke="#7a10a0" stroke-width="1"/>
<rect x="416.77" y="2041.94" width="4.97" height="34.45" fill="#00c000" stroke="#004800" stroke-width="1"/>
<rect x="416.77" y="2031.55" width="4.97" height="9.40" fill="#92c2f8" stroke="#2a90a8" stroke-width="1"/>
<rect x="422.74" y="2220.37" width="4.97" height="24.43" fill="#ff0000" stroke="#b00000" stroke-width="1"/>
<rect x="422.74" y="2162.47" width="4.97" height="56.90" fill="#ffa040" stroke="#d87010" stroke-width="1"/>
<rect x="422.74" y="2147.11" width="4.97" height="14.36" fill="#ffff00" stroke="#b0a020" stroke-width="1"/>
<rect x="422.74" y="2078.57" width="4.97" height="67.53" fill="#f9a8ec" stroke="#8a108a" stroke-width="1"/>
<rect x="422.74" y="2076.80" width="4.97" height="0.77" fill="#efe7c9" stroke="#000000" stroke-width="1"/>
<rect x="422.74" y="2030.72" width="4.97" height="45.08" fill="#00c000" stroke="#004800" stroke-width="1"/>
<rect x="428.71" y="2216.82" width="4.97" height="27.98" fill="#ff0000" stroke="#b00000" stroke-width="1"/>
<rect x="428.71" y="2194.96" width="4.97" height="20.86" fill="#ffff00" stroke="#b0a020" stroke-width="1"/>
<rect x="428.71" y="2193.19" width="4.97" height="0.77" fill="#9a6420" stroke="#000000" stroke-width="1"/>
<rect x="428.71" y="2175.47" width="4.97" height="16.72" fill="#620058" stroke="#7a10a0" stroke-width="1"/>
<rect x="428.71" y="2132.93" width="4.97" height="41.54" fill="#00c000" stroke="#004800" stroke-width="1"/>
<rect x="428.71" y="2063.21" width="4.97" height="68.72" fill="#92c2f8" stroke="#2a90a8" stroke-width="1"/>
<rect x="428.71" y="2048.80" width="4.97" height="13.42" fill="#0000ff" stroke="#000078" stroke-width="1"/>
<rect x="434.68" y="2234.55" width="4.97" height="10.25" fill="#ff0000" stroke="#b00000" stroke-width="1"/>
<rect x="434.68" y="2228.64" width="4.97" height="4.91" fill="#ffa040" stroke="#d87010" stroke-width="1"/>
<rect x="434.68" y="2214.46" width="4.97" height="13.18" fill="#ffff00" stroke="#b0a020" stroke-width="1"/>
<rect x="434.68" y="2176.65" width="4.97" height="36.81" fill="#9a6420" stroke="#000000" stroke-width="1"/>
<rect x="434.68" y="2144.15" width="4.97" height="31.49" fill="#efe7c9" stroke="#000000" stroke-width="1"/>
<rect x="434.68" y="2129.97" width="4.97" height="13.18" fill="#620058" stroke="#7a10a0" stroke-width="1"/>
<rect x="434.68" y="2094.53" width="4.97" height="34.45" fill="#00c000" stroke="#004800" stroke-width="1"/>
<rect x="434.68" y="2053.76" width="4.97" height="39.77" fill="#92c2f8" stroke="#2a90a8" stroke-width="1"/>
<rect x="440.65" y="2222.14" width="4.97" height="22.66" fill="#ff0000" stroke="#b00000" stroke-width="1"/>
<rect x="440.65" y="2213.87" width="4.97" height="7.27" fill="#ffa040" stroke="#d87010" stroke-width="1"/>
<rect x="440.65" y="2161.29" width="4.97" height="51.58" fill="#9a6420" stroke="#000000" stroke-width="1"/>
<rect x="440.65" y="2154.79" width="4.97" height="5.50" fill="#f9a8ec" stroke="#8a108a" stroke-width="1"/>
<rect x="440.65" y="2140.02" width="4.97" height="13.77" fill="#efe7c9" stroke="#000000" stroke-width="1"/>
<rect x="440.65" y="2127.02" width="4.97" height="12.00" fill="#620058" stroke="#7a10a0" stroke-width="1"/>
<rect x="440.65" y="2073.26" width="4.97" height="52.76" fill="#00c000" stroke="#004800" stroke-width="1"/>
<rect x="440.65" y="2063.80" width="4.97" height="8.45" fill="#92c2f8" stroke="#2a90a8" stroke-width="1"/>
<rect x="446.62" y="2241.05" width="4.97" height="3.75" fill="#ff0000" stroke="#b00000" stroke-width="1"/>
<rect x="446.62" y="2163.65" width="4.97" height="76.40" fill="#ffff00" stroke="#b0a020" stroke-width="1"/>
<rect x="446.62" y="2105.75" width="4.97" height="56.90" fill="#92c2f8" stroke="#2a90a8" stroke-width="1"/>
<rect x="446.62" y="2067.35" width="4.97" height="37.40" fill="#0000ff" stroke="#000078" stroke-width="1"/>
<rect x="452.59" y="2232.18" width="4.97" height="12.62" fill="#ffa040" stroke="#d87010" stroke-width="1"/>
<rect x="452.59" y="2214.46" width="4.97" height="16.72" fill="#9a6420" stroke="#000000" stroke-width="1"/>
<rect x="452.59" y="2164.24" width="4.97" height="49.22" fill="#f9a8ec" stroke="#8a108a" stroke-width="1"/>
<rect x="452.59" y="2137.06" width="4.97" height="26.18" fill="#efe7c9" stroke="#000000" stroke-width="1"/>
<rect x="452.59" y="2106.93" width="4.97" height="29.13" fill="#620058" stroke="#7a10a0" stroke-width="1"/>
<rect x="452.59" y="2082.36" width="4.97" height="23.58" fill="#00c000" stroke="#004800" stroke-width="1"/>
<rect x="452.59" y="2067.35" width="4.97" height="14.01" fill="#0000ff" stroke="#000078" stroke-width="1"/>
<rect x="458.56" y="2193.19" width="4.97" height="51.61" fill="#ffa040" stroke="#d87010" stroke-width="1"/>
<rect x="458.56" y="2173.69" width="4.97" height="18.50" fill="#9a6420" stroke="#000000" stroke-width="1"/>
<rect x="458.56" y="2129.97" width="4.97" height="42.72" fill="#f9a8ec" stroke="#8a108a" stroke-width="1"/>
<rect x="458.56" y="2127.97" width="4.97" height="1.01" fill="#efe7c9" stroke="#000000" stroke-width="1"/>
<rect x="458.56" y="2118.16" width="4.97" height="8.81" fill="#620058" stroke="#7a10a0" stroke-width="1"/>
<rect x="458.56" y="2070.89" width="4.97" height="46.26" fill="#00c000" stroke="#004800" stroke-width="1"/>
<rect x="464.53" y="2236.32" width="4.97" height="8.48" fill="#ff0000" stroke="#b00000" stroke-width="1"/>
<rect x="464.53" y="2201.46" width="4.97" height="33.86" fill="#ffa040" stroke="#d87010" stroke-width="1"/>
<rect x="464.53" y="2168.38" width="4.97" height="32.09" fill="#f9a8ec" stroke="#8a108a" stroke-width="1"/>
<rect x="464.53" y="2148.88" width="4.97" height="18.50" fill="#620058" stroke="#7a10a0" stroke-width="1"/>
<rect x="464.53" y="2071.48" width="4.97" height="76.40" fill="#00c000" stroke="#004800" stroke-width="1"/>
<rect x="470.50" y="2227.60" width="4.97" height="17.20" fill="#ff0000" stroke="#b00000" stroke-width="1"/>
<rect x="470.50" y="2207.49" width="4.97" height="19.11" fill="#ffa040" stroke="#d87010" stroke-width="1"/>
<rect x="470.50" y="2204.98" width="4.97" height="1.51" fill="#9a6420" stroke="#000000" stroke-width="1"/>
<rect x="470.50" y="2188.89" width="4.97" height="15.09" fill="#f9a8ec" stroke="#8a108a" stroke-width="1"/>
<rect x="470.50" y="2177.83" width="4.97" height="10.06" fill="#efe7c9" stroke="#000000" stroke-width="1"/>
<rect x="470.50" y="2158.73" width="4.97" height="18.10" fill="#620058" stroke="#7a10a0" stroke-width="1"/>
<rect x="470.50" y="2137.62" width="4.97" height="20.11" fill="#00c000" stroke="#004800" stroke-width="1"/>
<rect x="470.50" y="2112.49" width="4.97" height="24.13" fill="#92c2f8" stroke="#2a90a8" stroke-width="1"/>
<rect x="470.50" y="2082.33" width="4.97" height="29.16" fill="#0000ff" stroke="#000078" stroke-width="1"/>
<rect x="476.47" y="2220.06" width="4.97" height="24.74" fill="#ffa040" stroke="#d87010" stroke-width="1"/>
<rect x="476.47" y="2215.53" width="4.97" height="3.52" fill="#ffff00" stroke="#b0a020" stroke-width="1"/>
<rect x="476.47" y="2179.84" width="4.97" height="34.69" fill="#efe7c9" stroke="#000000" stroke-width="1"/>
<rect x="476.47" y="2159.24" width="4.97" height="19.61" fill="#620058" stroke="#7a10a0" stroke-width="1"/>
<rect x="476.47" y="2085.34" width="4.97" height="72.89" fill="#00c000" stroke="#004800" stroke-width="1"/>
<rect x="482.44" y="2228.60" width="4.97" height="16.20" fill="#ff0000" stroke="#b00000" stroke-width="1"/>
<rect x="482.44" y="2219.05" width="4.97" height="8.55" fill="#ffa040" stroke="#d87010" stroke-width="1"/>
<rect x="482.44" y="2196.43" width="4.97" height="21.62" fill="#9a6420" stroke="#000000" stroke-width="1"/>
<rect x="482.44" y="2187.38" width="4.97" height="8.05" fill="#620058" stroke="#7a10a0" stroke-width="1"/>
<rect x="482.44" y="2110.48" width="4.97" height="75.91" fill="#00c000" stroke="#004800" stroke-width="1"/>
<rect x="482.44" y="2089.36" width="4.97" height="20.11" fill="#0000ff" stroke="#000078" stroke-width="1"/>
<rect x="488.41" y="2219.55" width="4.97" height="25.25" fill="#ff0000" stroke="#b00000" stroke-width="1"/>
<rect x="488.41" y="2203.47" width="4.97" height="15.09" fill="#ffa040" stroke="#d87010" stroke-width="1"/>
<rect x="488.41" y="2194.92" width="4.97" height="7.55" fill="#9a6420" stroke="#000000" stroke-width="1"/>
<rect x="488.41" y="2185.88" width="4.97" height="8.05" fill="#f9a8ec" stroke="#8a108a" stroke-width="1"/>
<rect x="488.41" y="2175.82" width="4.97" height="9.05" fill="#efe7c9" stroke="#000000" stroke-width="1"/>
<rect x="488.41" y="2161.75" width="4.97" height="13.07" fill="#620058" stroke="#7a10a0" stroke-width="1"/>
<rect x="488.41" y="2127.06" width="4.97" height="33.68" fill="#00c000" stroke="#004800" stroke-width="1"/>
<rect x="488.41" y="2094.39" width="4.97" height="31.67" fill="#92c2f8" stroke="#2a90a8" stroke-width="1"/>
<rect x="494.38" y="2228.60" width="4.97" height="16.20" fill="#ff0000" stroke="#b00000" stroke-width="1"/>
<rect x="494.38" y="2192.91" width="4.97" height="34.69" fill="#ffff00" stroke="#b0a020" stroke-width="1"/>
<rect x="494.38" y="2172.30" width="4.97" height="19.61" fill="#9a6420" stroke="#000000" stroke-width="1"/>
<rect x="494.38" y="2097.41" width="4.97" height="73.90" fill="#00c000" stroke="#004800" stroke-width="1"/>
<rect x="500.35" y="2244.19" width="4.97" height="0.61" fill="#ff0000" stroke="#b00000" stroke-width="1"/>
<rect x="500.35" y="2166.78" width="4.97" height="76.41" fill="#9a6420" stroke="#000000" stroke-width="1"/>
<rect x="500.35" y="2142.65" width="4.97" height="23.13" fill="#620058" stroke="#7a10a0" stroke-width="1"/>
<rect x="500.35" y="2121.54" width="4.97" height="20.11" fill="#92c2f8" stroke="#2a90a8" stroke-width="1"/>
<rect x="500.35" y="2098.41" width="4.97" height="22.12" fill="#0000ff" stroke="#000078" stroke-width="1"/>
<rect x="506.32" y="2168.79" width="4.97" height="76.01" fill="#f9a8ec" stroke="#8a108a" stroke-width="1"/>
<rect x="506.32" y="2160.74" width="4.97" height="7.04" fill="#efe7c9" stroke="#000000" stroke-width="1"/>
<rect x="506.32" y="2152.70" width="4.97" height="7.04" fill="#620058" stroke="#7a10a0" stroke-width="1"/>
<rect x="506.32" y="2101.73" width="4.97" height="49.97" fill="#00c000" stroke="#004800" stroke-width="1"/>
<rect x="512.29" y="2240.67" width="4.97" height="4.13" fill="#ff0000" stroke="#b00000" stroke-width="1"/>
<rect x="512.29" y="2200.45" width="4.97" height="39.21" fill="#ffa040" stroke="#d87010" stroke-width="1"/>
<rect x="512.29" y="2197.94" width="4.97" height="1.51" fill="#9a6420" stroke="#000000" stroke-width="1"/>
<rect x="512.29" y="2165.27" width="4.97" height="31.67" fill="#efe7c9" stroke="#000000" stroke-width="1"/>
<rect x="512.29" y="2154.71" width="4.97" height="9.56" fill="#620058" stroke="#7a10a0" stroke-width="1"/>
<rect x="512.29" y="2106.96" width="4.97" height="46.75" fill="#00c000" stroke="#004800" stroke-width="1"/>
<rect x="512.29" y="2103.74" width="4.97" height="2.22" fill="#92c2f8" stroke="#2a90a8" stroke-width="1"/>
<rect x="518.26" y="2200.45" width="4.97" height="44.35" fill="#ffa040" stroke="#d87010" stroke-width="1"/>
<rect x="518.26" y="2140.13" width="4.97" height="59.32" fill="#f9a8ec" stroke="#8a108a" stroke-width="1"/>
<rect x="518.26" y="2104.75" width="4.97" height="34.39" fill="#00c000" stroke="#004800" stroke-width="1"/>
<rect x="524.23" y="2234.63" width="4.97" height="10.17" fill="#ff0000" stroke="#b00000" stroke-width="1"/>
<rect x="524.23" y="2217.04" width="4.97" height="16.59" fill="#ffa040" stroke="#d87010" stroke-width="1"/>
<rect x="524.23" y="2196.94" width="4.97" height="19.11" fill="#ffff00" stroke="#b0a020" stroke-width="1"/>
<rect x="523.73" y="2195.43" width="5.97" height="1.01" fill="#000000"/>
<rect x="524.23" y="2183.87" width="4.97" height="11.06" fill="#efe7c9" stroke="#000000" stroke-width="1"/>
<rect x="524.23" y="2169.29" width="4.97" height="13.58" fill="#620058" stroke="#7a10a0" stroke-width="1"/>
<rect x="524.23" y="2147.67" width="4.97" height="20.61" fill="#00c000" stroke="#004800" stroke-width="1"/>
<rect x="524.23" y="2123.55" width="4.97" height="23.13" fill="#92c2f8" stroke="#2a90a8" stroke-width="1"/>
<rect x="524.23" y="2111.48" width="4.97" height="11.06" fill="#0000ff" stroke="#000078" stroke-width="1"/>
<rect x="530.20" y="2190.68" width="4.97" height="54.12" fill="#ffa040" stroke="#d87010" stroke-width="1"/>
<rect x="530.20" y="2113.57" width="4.97" height="76.11" fill="#00c000" stroke="#004800" stroke-width="1"/>
<rect x="530.20" y="2110.67" width="4.97" height="1.90" fill="#92c2f8" stroke="#2a90a8" stroke-width="1"/>
<rect x="536.17" y="2233.39" width="4.97" height="11.41" fill="#ff0000" stroke="#b00000" stroke-width="1"/>
<rect x="536.17" y="2228.83" width="4.97" height="3.56" fill="#ffa040" stroke="#d87010" stroke-width="1"/>
<rect x="536.17" y="2216.39" width="4.97" height="11.44" fill="#efe7c9" stroke="#000000" stroke-width="1"/>
<rect x="536.17" y="2193.58" width="4.97" height="21.80" fill="#620058" stroke="#7a10a0" stroke-width="1"/>
<rect x="536.17" y="2116.88" width="4.97" height="75.70" fill="#00c000" stroke="#004800" stroke-width="1"/>
<rect x="536.17" y="2113.57" width="4.97" height="2.32" fill="#92c2f8" stroke="#2a90a8" stroke-width="1"/>
<rect x="542.14" y="2192.34" width="4.97" height="52.46" fill="#f9a8ec" stroke="#8a108a" stroke-width="1"/>
<rect x="541.64" y="2191.01" width="5.97" height="0.83" fill="#620058"/>
<rect x="542.14" y="2114.81" width="4.97" height="75.70" fill="#00c000" stroke="#004800" stroke-width="1"/>
<rect x="548.11" y="2178.24" width="4.97" height="66.56" fill="#ffa040" stroke="#d87010" stroke-width="1"/>
<rect x="548.11" y="2116.88" width="4.97" height="60.36" fill="#00c000" stroke="#004800" stroke-width="1"/>
<rect x="548.11" y="2113.57" width="4.97" height="2.32" fill="#92c2f8" stroke="#2a90a8" stroke-width="1"/>
<rect x="554.08" y="2242.09" width="4.97" height="2.71" fill="#ff0000" stroke="#b00000" stroke-width="1"/>
<rect x="554.08" y="2229.65" width="4.97" height="11.44" fill="#620058" stroke="#7a10a0" stroke-width="1"/>
<rect x="554.08" y="2172.03" width="4.97" height="56.63" fill="#00c000" stroke="#004800" stroke-width="1"/>
<rect x="554.08" y="2123.52" width="4.97" height="47.51" fill="#92c2f8" stroke="#2a90a8" stroke-width="1"/>
<rect x="554.08" y="2116.88" width="4.97" height="5.63" fill="#0000ff" stroke="#000078" stroke-width="1"/>
<rect x="560.05" y="2224.68" width="4.97" height="20.12" fill="#ff0000" stroke="#b00000" stroke-width="1"/>
<rect x="560.05" y="2222.61" width="4.97" height="1.07" fill="#9a6420" stroke="#000000" stroke-width="1"/>
<rect x="559.55" y="2221.28" width="5.97" height="0.83" fill="#000000"/>
<rect x="560.05" y="2205.61" width="4.97" height="15.17" fill="#620058" stroke="#7a10a0" stroke-width="1"/>
<rect x="560.05" y="2158.34" width="4.97" height="46.26" fill="#00c000" stroke="#004800" stroke-width="1"/>
<rect x="560.05" y="2156.69" width="4.97" height="0.66" fill="#92c2f8" stroke="#2a90a8" stroke-width="1"/>
<rect x="560.05" y="2117.71" width="4.97" height="37.97" fill="#0000ff" stroke="#000078" stroke-width="1"/>
<rect x="566.02" y="2208.10" width="4.97" height="36.70" fill="#ffff00" stroke="#b0a020" stroke-width="1"/>
<rect x="566.02" y="2172.85" width="4.97" height="34.24" fill="#efe7c9" stroke="#000000" stroke-width="1"/>
<rect x="566.02" y="2145.49" width="4.97" height="26.36" fill="#92c2f8" stroke="#2a90a8" stroke-width="1"/>
<rect x="566.02" y="2122.69" width="4.97" height="21.80" fill="#0000ff" stroke="#000078" stroke-width="1"/>
<rect x="571.99" y="2231.31" width="4.97" height="13.49" fill="#ff0000" stroke="#b00000" stroke-width="1"/>
<rect x="571.99" y="2205.61" width="4.97" height="24.70" fill="#ffa040" stroke="#d87010" stroke-width="1"/>
<rect x="571.99" y="2173.68" width="4.97" height="30.92" fill="#ffff00" stroke="#b0a020" stroke-width="1"/>
<rect x="571.99" y="2171.20" width="4.97" height="1.49" fill="#9a6420" stroke="#000000" stroke-width="1"/>
<rect x="571.99" y="2159.59" width="4.97" height="10.61" fill="#620058" stroke="#7a10a0" stroke-width="1"/>
<rect x="571.99" y="2140.93" width="4.97" height="17.66" fill="#00c000" stroke="#004800" stroke-width="1"/>
<rect x="571.99" y="2123.93" width="4.97" height="16.00" fill="#92c2f8" stroke="#2a90a8" stroke-width="1"/>
<rect x="577.96" y="2218.46" width="4.97" height="26.34" fill="#ffa040" stroke="#d87010" stroke-width="1"/>
<rect x="577.96" y="2187.78" width="4.97" height="29.68" fill="#00c000" stroke="#004800" stroke-width="1"/>
<rect x="577.96" y="2178.24" width="4.97" height="8.54" fill="#92c2f8" stroke="#2a90a8" stroke-width="1"/>
<rect x="577.96" y="2131.81" width="4.97" height="45.43" fill="#0000ff" stroke="#000078" stroke-width="1"/>
<rect x="583.93" y="2244.10" width="4.97" height="0.70" fill="#ff0000" stroke="#b00000" stroke-width="1"/>
<rect x="583.93" y="2219.45" width="4.97" height="23.65" fill="#ffa040" stroke="#d87010" stroke-width="1"/>
<rect x="583.93" y="2215.19" width="4.97" height="3.26" fill="#9a6420" stroke="#000000" stroke-width="1"/>
<rect x="583.43" y="2213.47" width="5.97" height="1.22" fill="#620058"/>
<rect x="583.93" y="2136.67" width="4.97" height="76.30" fill="#00c000" stroke="#004800" stroke-width="1"/>
<rect x="589.90" y="2223.71" width="4.97" height="21.09" fill="#f9a8ec" stroke="#8a108a" stroke-width="1"/>
<rect x="589.90" y="2146.71" width="4.97" height="75.99" fill="#00c000" stroke="#004800" stroke-width="1"/>
<rect x="595.87" y="2240.75" width="4.97" height="4.05" fill="#ff0000" stroke="#b00000" stroke-width="1"/>
<rect x="595.87" y="2229.49" width="4.97" height="10.26" fill="#ffa040" stroke="#d87010" stroke-width="1"/>
<rect x="595.87" y="2213.97" width="4.97" height="14.52" fill="#9a6420" stroke="#000000" stroke-width="1"/>
<rect x="595.87" y="2198.45" width="4.97" height="14.52" fill="#efe7c9" stroke="#000000" stroke-width="1"/>
<rect x="595.87" y="2191.75" width="4.97" height="5.70" fill="#620058" stroke="#7a10a0" stroke-width="1"/>
<rect x="595.87" y="2165.89" width="4.97" height="24.87" fill="#00c000" stroke="#004800" stroke-width="1"/>
<rect x="595.87" y="2153.41" width="4.97" height="11.48" fill="#92c2f8" stroke="#2a90a8" stroke-width="1"/>
<rect x="595.87" y="2147.75" width="4.97" height="4.66" fill="#0000ff" stroke="#000078" stroke-width="1"/>
<rect x="601.84" y="2237.40" width="4.97" height="7.40" fill="#ff0000" stroke="#b00000" stroke-width="1"/>
<rect x="601.84" y="2199.36" width="4.97" height="37.04" fill="#ffa040" stroke="#d87010" stroke-width="1"/>
<rect x="601.84" y="2192.06" width="4.97" height="6.30" fill="#9a6420" stroke="#000000" stroke-width="1"/>
<rect x="601.84" y="2189.01" width="4.97" height="2.04" fill="#efe7c9" stroke="#000000" stroke-width="1"/>
<rect x="601.84" y="2159.50" width="4.97" height="28.52" fill="#00c000" stroke="#004800" stroke-width="1"/>
<rect x="601.84" y="2156.88" width="4.97" height="1.62" fill="#92c2f8" stroke="#2a90a8" stroke-width="1"/>
<rect x="607.81" y="2243.49" width="4.97" height="1.31" fill="#ff0000" stroke="#b00000" stroke-width="1"/>
<rect x="607.81" y="2241.36" width="4.97" height="1.13" fill="#ffff00" stroke="#b0a020" stroke-width="1"/>
<rect x="607.81" y="2237.10" width="4.97" height="3.26" fill="#9a6420" stroke="#000000" stroke-width="1"/>
<rect x="607.81" y="2231.01" width="4.97" height="5.09" fill="#f9a8ec" stroke="#8a108a" stroke-width="1"/>
<rect x="607.81" y="2213.97" width="4.97" height="16.04" fill="#efe7c9" stroke="#000000" stroke-width="1"/>
<rect x="607.81" y="2193.58" width="4.97" height="19.39" fill="#620058" stroke="#7a10a0" stroke-width="1"/>
<rect x="607.81" y="2155.24" width="4.97" height="37.34" fill="#00c000" stroke="#004800" stroke-width="1"/>
<rect x="613.78" y="2241.97" width="4.97" height="2.83" fill="#ff0000" stroke="#b00000" stroke-width="1"/>
<rect x="613.78" y="2226.45" width="4.97" height="14.52" fill="#ffa040" stroke="#d87010" stroke-width="1"/>
<rect x="613.78" y="2217.62" width="4.97" height="7.83" fill="#620058" stroke="#7a10a0" stroke-width="1"/>
<rect x="613.78" y="2159.50" width="4.97" height="57.13" fill="#00c000" stroke="#004800" stroke-width="1"/>
<rect x="619.75" y="2244.10" width="4.97" height="0.70" fill="#ff0000" stroke="#b00000" stroke-width="1"/>
<rect x="619.75" y="2240.75" width="4.97" height="2.35" fill="#ffa040" stroke="#d87010" stroke-width="1"/>
<rect x="619.75" y="2237.71" width="4.97" height="2.04" fill="#f9a8ec" stroke="#8a108a" stroke-width="1"/>
<rect x="619.75" y="2160.10" width="4.97" height="76.60" fill="#00c000" stroke="#004800" stroke-width="1"/>
<rect x="619.25" y="2158.39" width="5.97" height="1.22" fill="#92c2f8"/>
<rect x="625.72" y="2226.45" width="4.97" height="18.35" fill="#ffa040" stroke="#d87010" stroke-width="1"/>
<rect x="625.22" y="2224.42" width="5.97" height="1.52" fill="#000000"/>
<rect x="625.72" y="2222.79" width="4.97" height="1.13" fill="#620058" stroke="#7a10a0" stroke-width="1"/>
<rect x="625.72" y="2161.32" width="4.97" height="60.47" fill="#00c000" stroke="#004800" stroke-width="1"/>
<rect x="631.69" y="2224.32" width="4.97" height="20.48" fill="#ffa040" stroke="#d87010" stroke-width="1"/>
<rect x="631.69" y="2206.67" width="4.97" height="16.65" fill="#f9a8ec" stroke="#8a108a" stroke-width="1"/>
<rect x="631.69" y="2196.01" width="4.97" height="9.65" fill="#efe7c9" stroke="#000000" stroke-width="1"/>
<rect x="631.69" y="2165.89" width="4.97" height="29.13" fill="#00c000" stroke="#004800" stroke-width="1"/>
<rect x="637.66" y="2229.49" width="4.97" height="15.31" fill="#ffa040" stroke="#d87010" stroke-width="1"/>
<rect x="637.66" y="2221.88" width="4.97" height="6.61" fill="#9a6420" stroke="#000000" stroke-width="1"/>
<rect x="637.66" y="2203.62" width="4.97" height="17.26" fill="#620058" stroke="#7a10a0" stroke-width="1"/>
<rect x="637.66" y="2181.71" width="4.97" height="20.91" fill="#00c000" stroke="#004800" stroke-width="1"/>
<rect x="637.66" y="2168.93" width="4.97" height="11.78" fill="#92c2f8" stroke="#2a90a8" stroke-width="1"/>
<rect x="643.63" y="2223.36" width="4.97" height="21.44" fill="#ffa040" stroke="#d87010" stroke-width="1"/>
<rect x="643.13" y="2221.43" width="5.97" height="1.43" fill="#620058"/>
<rect x="643.63" y="2170.98" width="4.97" height="49.95" fill="#00c000" stroke="#004800" stroke-width="1"/>
<rect x="649.10" y="2243.81" width="5.97" height="1.49" fill="#ff0000"/>
<rect x="649.60" y="2216.21" width="4.97" height="27.10" fill="#ffff00" stroke="#b0a020" stroke-width="1"/>
<rect x="649.60" y="2201.93" width="4.97" height="13.29" fill="#9a6420" stroke="#000000" stroke-width="1"/>
<rect x="649.60" y="2191.93" width="4.97" height="9.00" fill="#efe7c9" stroke="#000000" stroke-width="1"/>
<rect x="649.60" y="2186.45" width="4.97" height="4.48" fill="#620058" stroke="#7a10a0" stroke-width="1"/>
<rect x="649.60" y="2170.98" width="4.97" height="14.48" fill="#00c000" stroke="#004800" stroke-width="1"/>
<rect x="655.57" y="2242.88" width="4.97" height="1.92" fill="#ff0000" stroke="#b00000" stroke-width="1"/>
<rect x="655.57" y="2221.45" width="4.97" height="20.43" fill="#ffa040" stroke="#d87010" stroke-width="1"/>
<rect x="655.57" y="2210.02" width="4.97" height="10.43" fill="#efe7c9" stroke="#000000" stroke-width="1"/>
<rect x="655.57" y="2176.69" width="4.97" height="32.33" fill="#00c000" stroke="#004800" stroke-width="1"/>
<rect x="655.57" y="2171.69" width="4.97" height="4.00" fill="#92c2f8" stroke="#2a90a8" stroke-width="1"/>
<rect x="661.54" y="2217.64" width="4.97" height="27.16" fill="#ffa040" stroke="#d87010" stroke-width="1"/>
<rect x="661.54" y="2179.79" width="4.97" height="36.86" fill="#00c000" stroke="#004800" stroke-width="1"/>
<rect x="667.51" y="2232.88" width="4.97" height="11.92" fill="#ff0000" stroke="#b00000" stroke-width="1"/>
<rect x="667.51" y="2222.17" width="4.97" height="9.71" fill="#ffa040" stroke="#d87010" stroke-width="1"/>
<rect x="667.51" y="2214.79" width="4.97" height="6.38" fill="#f9a8ec" stroke="#8a108a" stroke-width="1"/>
<rect x="667.01" y="2213.10" width="5.97" height="1.19" fill="#620058"/>
<rect x="667.51" y="2185.74" width="4.97" height="26.86" fill="#00c000" stroke="#004800" stroke-width="1"/>
<rect x="673.48" y="2243.83" width="4.97" height="0.97" fill="#ff0000" stroke="#b00000" stroke-width="1"/>
<rect x="673.48" y="2237.17" width="4.97" height="5.67" fill="#ffff00" stroke="#b0a020" stroke-width="1"/>
<rect x="673.48" y="2235.26" width="4.97" height="0.90" fill="#f9a8ec" stroke="#8a108a" stroke-width="1"/>
<rect x="673.48" y="2215.26" width="4.97" height="19.00" fill="#efe7c9" stroke="#000000" stroke-width="1"/>
<rect x="673.48" y="2209.55" width="4.97" height="4.71" fill="#00c000" stroke="#004800" stroke-width="1"/>
<rect x="673.48" y="2187.40" width="4.97" height="21.14" fill="#0000ff" stroke="#000078" stroke-width="1"/>
<rect x="679.45" y="2237.64" width="4.97" height="7.16" fill="#f9a8ec" stroke="#8a108a" stroke-width="1"/>
<rect x="679.45" y="2215.74" width="4.97" height="20.90" fill="#00c000" stroke="#004800" stroke-width="1"/>
<rect x="678.95" y="2214.29" width="5.97" height="0.95" fill="#92c2f8"/>
<rect x="679.45" y="2190.50" width="4.97" height="23.29" fill="#0000ff" stroke="#000078" stroke-width="1"/>
<rect x="684.92" y="2244.52" width="5.97" height="0.78" fill="#ff0000"/>
<rect x="685.42" y="2233.36" width="4.97" height="10.67" fill="#ffa040" stroke="#d87010" stroke-width="1"/>
<rect x="685.42" y="2229.07" width="4.97" height="3.29" fill="#620058" stroke="#7a10a0" stroke-width="1"/>
<rect x="685.42" y="2197.64" width="4.97" height="30.43" fill="#00c000" stroke="#004800" stroke-width="1"/>
<rect x="691.39" y="2244.07" width="4.97" height="0.73" fill="#ff0000" stroke="#b00000" stroke-width="1"/>
<rect x="691.39" y="2238.36" width="4.97" height="4.71" fill="#9a6420" stroke="#000000" stroke-width="1"/>
<rect x="691.39" y="2234.07" width="4.97" height="3.29" fill="#620058" stroke="#7a10a0" stroke-width="1"/>
<rect x="691.39" y="2218.12" width="4.97" height="14.95" fill="#00c000" stroke="#004800" stroke-width="1"/>
<rect x="691.39" y="2199.79" width="4.97" height="17.33" fill="#92c2f8" stroke="#2a90a8" stroke-width="1"/>
<rect x="697.36" y="2225.26" width="4.97" height="19.54" fill="#f9a8ec" stroke="#8a108a" stroke-width="1"/>
<rect x="697.36" y="2222.88" width="4.97" height="1.38" fill="#92c2f8" stroke="#2a90a8" stroke-width="1"/>
<rect x="697.36" y="2205.74" width="4.97" height="16.14" fill="#0000ff" stroke="#000078" stroke-width="1"/>
<rect x="703.33" y="2241.97" width="4.97" height="2.83" fill="#ff0000" stroke="#b00000" stroke-width="1"/>
<rect x="703.33" y="2236.46" width="4.97" height="4.51" fill="#ffa040" stroke="#d87010" stroke-width="1"/>
<rect x="703.33" y="2221.01" width="4.97" height="14.44" fill="#9a6420" stroke="#000000" stroke-width="1"/>
<rect x="703.33" y="2217.71" width="4.97" height="2.31" fill="#620058" stroke="#7a10a0" stroke-width="1"/>
<rect x="703.33" y="2208.15" width="4.97" height="8.56" fill="#00c000" stroke="#004800" stroke-width="1"/>
<rect x="703.33" y="2205.94" width="4.97" height="1.21" fill="#92c2f8" stroke="#2a90a8" stroke-width="1"/>
<rect x="702.83" y="2204.15" width="5.97" height="1.29" fill="#0000ff"/>
<rect x="709.30" y="2235.35" width="4.97" height="9.45" fill="#f9a8ec" stroke="#8a108a" stroke-width="1"/>
<rect x="709.30" y="2209.62" width="4.97" height="24.74" fill="#0000ff" stroke="#000078" stroke-width="1"/>
<rect x="715.27" y="2243.81" width="4.97" height="0.99" fill="#ff0000" stroke="#b00000" stroke-width="1"/>
<rect x="715.27" y="2209.80" width="4.97" height="33.01" fill="#00c000" stroke="#004800" stroke-width="1"/>
<rect x="721.24" y="2238.11" width="4.97" height="6.69" fill="#ff0000" stroke="#b00000" stroke-width="1"/>
<rect x="721.24" y="2236.09" width="4.97" height="1.02" fill="#ffff00" stroke="#b0a020" stroke-width="1"/>
<rect x="721.24" y="2214.03" width="4.97" height="21.06" fill="#9a6420" stroke="#000000" stroke-width="1"/>
<rect x="721.24" y="2211.09" width="4.97" height="1.94" fill="#f9a8ec" stroke="#8a108a" stroke-width="1"/>
<rect x="727.21" y="2243.07" width="4.97" height="1.73" fill="#ffa040" stroke="#d87010" stroke-width="1"/>
<rect x="727.21" y="2238.48" width="4.97" height="3.60" fill="#620058" stroke="#7a10a0" stroke-width="1"/>
<rect x="727.21" y="2214.58" width="4.97" height="22.90" fill="#00c000" stroke="#004800" stroke-width="1"/>
<rect x="727.21" y="2210.72" width="4.97" height="2.86" fill="#92c2f8" stroke="#2a90a8" stroke-width="1"/>
<rect x="733.18" y="2243.81" width="4.97" height="0.99" fill="#ff0000" stroke="#b00000" stroke-width="1"/>
<rect x="732.68" y="2242.57" width="5.97" height="0.74" fill="#ffa040"/>
<rect x="733.18" y="2238.11" width="4.97" height="3.96" fill="#9a6420" stroke="#000000" stroke-width="1"/>
<rect x="733.18" y="2233.88" width="4.97" height="3.23" fill="#f9a8ec" stroke="#8a108a" stroke-width="1"/>
<rect x="733.18" y="2230.39" width="4.97" height="2.49" fill="#620058" stroke="#7a10a0" stroke-width="1"/>
<rect x="733.18" y="2226.71" width="4.97" height="2.68" fill="#00c000" stroke="#004800" stroke-width="1"/>
<rect x="733.18" y="2223.59" width="4.97" height="2.12" fill="#92c2f8" stroke="#2a90a8" stroke-width="1"/>
<rect x="733.18" y="2211.64" width="4.97" height="10.95" fill="#0000ff" stroke="#000078" stroke-width="1"/>
<rect x="738.65" y="2244.04" width="5.97" height="1.26" fill="#000000"/>
<rect x="739.15" y="2223.22" width="4.97" height="20.32" fill="#00c000" stroke="#004800" stroke-width="1"/>
<rect x="738.65" y="2222.35" width="5.97" height="0.37" fill="#92c2f8"/>
<rect x="739.15" y="2214.76" width="4.97" height="7.09" fill="#0000ff" stroke="#000078" stroke-width="1"/>
<rect x="745.12" y="2216.79" width="4.97" height="28.01" fill="#00c000" stroke="#004800" stroke-width="1"/>
<rect x="751.09" y="2236.27" width="4.97" height="8.53" fill="#ffa040" stroke="#d87010" stroke-width="1"/>
<rect x="751.09" y="2217.52" width="4.97" height="17.75" fill="#00c000" stroke="#004800" stroke-width="1"/>
<rect x="757.06" y="2243.61" width="4.97" height="1.19" fill="#ff0000" stroke="#b00000" stroke-width="1"/>
<rect x="757.06" y="2233.81" width="4.97" height="8.80" fill="#ffa040" stroke="#d87010" stroke-width="1"/>
<rect x="757.06" y="2227.07" width="4.97" height="5.74" fill="#ffff00" stroke="#b0a020" stroke-width="1"/>
<rect x="757.06" y="2219.72" width="4.97" height="6.35" fill="#00c000" stroke="#004800" stroke-width="1"/>
<rect x="756.56" y="2218.30" width="5.97" height="0.92" fill="#0000ff"/>
<rect x="763.03" y="2239.02" width="4.97" height="5.78" fill="#ff0000" stroke="#b00000" stroke-width="1"/>
<rect x="763.03" y="2231.66" width="4.97" height="6.35" fill="#ffa040" stroke="#d87010" stroke-width="1"/>
<rect x="762.53" y="2229.94" width="5.97" height="1.23" fill="#ffff00"/>
<rect x="762.53" y="2228.41" width="5.97" height="1.53" fill="#000000"/>
<rect x="763.03" y="2225.84" width="4.97" height="2.06" fill="#efe7c9" stroke="#000000" stroke-width="1"/>
<rect x="762.53" y="2224.42" width="5.97" height="0.92" fill="#620058"/>
<rect x="763.03" y="2221.25" width="4.97" height="2.68" fill="#92c2f8" stroke="#2a90a8" stroke-width="1"/>
<rect x="769.00" y="2221.25" width="4.97" height="23.55" fill="#00c000" stroke="#004800" stroke-width="1"/>
<rect x="774.97" y="2243.92" width="4.97" height="0.88" fill="#620058" stroke="#7a10a0" stroke-width="1"/>
<rect x="774.97" y="2231.97" width="4.97" height="10.95" fill="#00c000" stroke="#004800" stroke-width="1"/>
<rect x="774.97" y="2224.62" width="4.97" height="6.35" fill="#92c2f8" stroke="#2a90a8" stroke-width="1"/>
<rect x="780.94" y="2243.00" width="4.97" height="1.80" fill="#ff0000" stroke="#b00000" stroke-width="1"/>
<rect x="780.94" y="2239.32" width="4.97" height="2.68" fill="#ffa040" stroke="#d87010" stroke-width="1"/>
<rect x="780.94" y="2235.03" width="4.97" height="3.29" fill="#92c2f8" stroke="#2a90a8" stroke-width="1"/>
<rect x="780.94" y="2224.62" width="4.97" height="9.42" fill="#0000ff" stroke="#000078" stroke-width="1"/>
<rect x="786.41" y="2244.34" width="5.97" height="0.96" fill="#ff0000"/>
<rect x="786.91" y="2241.77" width="4.97" height="2.06" fill="#ffa040" stroke="#d87010" stroke-width="1"/>
<rect x="786.91" y="2239.94" width="4.97" height="0.84" fill="#ffff00" stroke="#b0a020" stroke-width="1"/>
<rect x="786.91" y="2235.65" width="4.97" height="3.29" fill="#620058" stroke="#7a10a0" stroke-width="1"/>
<rect x="786.91" y="2227.68" width="4.97" height="6.97" fill="#00c000" stroke="#004800" stroke-width="1"/>
<rect x="786.41" y="2226.26" width="5.97" height="0.92" fill="#92c2f8"/>
<rect x="792.88" y="2228.29" width="4.97" height="16.51" fill="#ffa040" stroke="#d87010" stroke-width="1"/>
<rect x="792.38" y="2226.57" width="5.97" height="1.23" fill="#620058"/>
<rect x="792.38" y="2225.34" width="5.97" height="1.23" fill="#92c2f8"/>
<rect x="798.85" y="2237.79" width="4.97" height="7.01" fill="#ffff00" stroke="#b0a020" stroke-width="1"/>
<rect x="798.35" y="2236.37" width="5.97" height="0.92" fill="#000000"/>
<rect x="798.85" y="2233.81" width="4.97" height="2.06" fill="#620058" stroke="#7a10a0" stroke-width="1"/>
<rect x="798.85" y="2227.99" width="4.97" height="4.82" fill="#00c000" stroke="#004800" stroke-width="1"/>
<rect x="798.35" y="2226.26" width="5.97" height="1.23" fill="#92c2f8"/>
<rect x="804.82" y="2234.12" width="4.97" height="10.68" fill="#9a6420" stroke="#000000" stroke-width="1"/>
<rect x="804.82" y="2227.99" width="4.97" height="5.13" fill="#f9a8ec" stroke="#8a108a" stroke-width="1"/>
<rect x="810.79" y="2229.52" width="4.97" height="15.28" fill="#00c000" stroke="#004800" stroke-width="1"/>
<rect x="816.76" y="2238.71" width="4.97" height="6.09" fill="#9a6420" stroke="#000000" stroke-width="1"/>
<rect x="816.76" y="2231.97" width="4.97" height="5.74" fill="#00c000" stroke="#004800" stroke-width="1"/>
<rect x="822.73" y="2242.08" width="4.97" height="2.72" fill="#efe7c9" stroke="#000000" stroke-width="1"/>
<rect x="822.23" y="2240.66" width="5.97" height="0.92" fill="#620058"/>
<rect x="822.73" y="2231.66" width="4.97" height="8.50" fill="#0000ff" stroke="#000078" stroke-width="1"/>
<rect x="828.70" y="2234.12" width="4.97" height="10.68" fill="#00c000" stroke="#004800" stroke-width="1"/>
<rect x="834.67" y="2243.31" width="4.97" height="1.49" fill="#ffa040" stroke="#d87010" stroke-width="1"/>
<rect x="834.67" y="2234.12" width="4.97" height="8.19" fill="#00c000" stroke="#004800" stroke-width="1"/>
<rect x="840.14" y="2243.73" width="5.97" height="1.57" fill="#000000"/>
<rect x="840.64" y="2233.81" width="4.97" height="9.42" fill="#f9a8ec" stroke="#8a108a" stroke-width="1"/>
<rect x="846.11" y="2244.64" width="5.97" height="0.66" fill="#ffa040"/>
<rect x="846.61" y="2236.87" width="4.97" height="7.27" fill="#efe7c9" stroke="#000000" stroke-width="1"/>
<rect x="852.08" y="2243.73" width="5.97" height="1.57" fill="#000000"/>
<rect x="852.58" y="2241.77" width="4.97" height="1.45" fill="#620058" stroke="#7a10a0" stroke-width="1"/>
<rect x="852.58" y="2238.10" width="4.97" height="2.68" fill="#00c000" stroke="#004800" stroke-width="1"/>
<rect x="852.08" y="2236.37" width="5.97" height="1.23" fill="#92c2f8"/>
<rect x="858.55" y="2237.90" width="4.97" height="6.90" fill="#efe7c9" stroke="#000000" stroke-width="1"/>
<rect x="864.52" y="2238.20" width="4.97" height="6.60" fill="#0000ff" stroke="#000078" stroke-width="1"/>
<rect x="869.99" y="2244.10" width="5.97" height="1.20" fill="#ffa040"/>
<rect x="869.99" y="2242.70" width="5.97" height="1.40" fill="#620058"/>
<rect x="870.49" y="2241.50" width="4.97" height="0.70" fill="#00c000" stroke="#004800" stroke-width="1"/>
<rect x="870.49" y="2239.70" width="4.97" height="0.80" fill="#92c2f8" stroke="#2a90a8" stroke-width="1"/>
<rect x="876.46" y="2242.80" width="4.97" height="2.00" fill="#ffa040" stroke="#d87010" stroke-width="1"/>
<rect x="876.46" y="2240.90" width="4.97" height="0.90" fill="#620058" stroke="#7a10a0" stroke-width="1"/>
<rect x="876.46" y="2238.80" width="4.97" height="1.10" fill="#00c000" stroke="#004800" stroke-width="1"/>
<rect x="882.43" y="2241.00" width="4.97" height="3.80" fill="#00c000" stroke="#004800" stroke-width="1"/>
<rect x="881.93" y="2239.20" width="5.97" height="1.30" fill="#92c2f8"/>
<rect x="887.90" y="2244.10" width="5.97" height="1.20" fill="#ffa040"/>
<rect x="888.40" y="2242.80" width="4.97" height="0.80" fill="#92c2f8" stroke="#2a90a8" stroke-width="1"/>
<rect x="893.87" y="2244.30" width="5.97" height="1.00" fill="#ffa040"/>
<rect x="893.87" y="2243.20" width="5.97" height="1.10" fill="#00c000"/>
<rect x="900.34" y="2243.70" width="4.97" height="1.10" fill="#620058" stroke="#7a10a0" stroke-width="1"/>
<rect x="906.31" y="2244.10" width="4.97" height="0.70" fill="#ff0000" stroke="#b00000" stroke-width="1"/>
<rect x="912.28" y="2244.10" width="4.97" height="0.70" fill="#92c2f8" stroke="#2a90a8" stroke-width="1"/>
<rect x="918.25" y="2244.10" width="4.97" height="0.70" fill="#0000ff" stroke="#000078" stroke-width="1"/>
<line x1="941.3" y1="2244.7" x2="1437" y2="2244.7" stroke="#111" stroke-width="1.1"/>
<rect x="941.80" y="2241.95" width="4.97" height="2.86" fill="#9a6420" stroke="#000000" stroke-width="1"/>
<rect x="941.30" y="2240.29" width="5.97" height="1.16" fill="#620058"/>
<rect x="941.80" y="2238.86" width="4.97" height="0.93" fill="#92c2f8" stroke="#2a90a8" stroke-width="1"/>
<rect x="947.77" y="2242.33" width="4.97" height="2.47" fill="#9a6420" stroke="#000000" stroke-width="1"/>
<rect x="947.27" y="2241.06" width="5.97" height="0.77" fill="#620058"/>
<rect x="947.27" y="2239.90" width="5.97" height="1.16" fill="#92c2f8"/>
<rect x="953.74" y="2241.56" width="4.97" height="3.24" fill="#9a6420" stroke="#000000" stroke-width="1"/>
<rect x="953.24" y="2240.13" width="5.97" height="0.93" fill="#620058"/>
<rect x="953.24" y="2239.67" width="5.97" height="0.46" fill="#92c2f8"/>
<rect x="959.71" y="2242.33" width="4.97" height="2.47" fill="#9a6420" stroke="#000000" stroke-width="1"/>
<rect x="959.21" y="2240.75" width="5.97" height="1.08" fill="#620058"/>
<rect x="965.68" y="2243.49" width="4.97" height="1.31" fill="#620058" stroke="#7a10a0" stroke-width="1"/>
<rect x="965.18" y="2242.52" width="5.97" height="0.46" fill="#000000"/>
<rect x="965.18" y="2241.29" width="5.97" height="1.23" fill="#92c2f8"/>
<rect x="971.65" y="2241.17" width="4.97" height="3.63" fill="#9a6420" stroke="#000000" stroke-width="1"/>
<rect x="977.62" y="2241.56" width="4.97" height="3.24" fill="#9a6420" stroke="#000000" stroke-width="1"/>
<rect x="977.12" y="2240.44" width="5.97" height="0.62" fill="#620058"/>
<rect x="983.59" y="2242.72" width="4.97" height="2.08" fill="#9a6420" stroke="#000000" stroke-width="1"/>
<rect x="983.09" y="2241.29" width="5.97" height="0.93" fill="#92c2f8"/>
<rect x="989.56" y="2243.02" width="4.97" height="1.78" fill="#9a6420" stroke="#000000" stroke-width="1"/>
<rect x="989.06" y="2241.29" width="5.97" height="1.23" fill="#620058"/>
<rect x="995.53" y="2243.49" width="4.97" height="1.31" fill="#ffff00" stroke="#b0a020" stroke-width="1"/>
<rect x="995.03" y="2241.60" width="5.97" height="1.39" fill="#620058"/>
<rect x="1001.50" y="2243.02" width="4.97" height="1.78" fill="#9a6420" stroke="#000000" stroke-width="1"/>
<rect x="1001.00" y="2241.14" width="5.97" height="1.39" fill="#620058"/>
<rect x="1007.47" y="2243.02" width="4.97" height="1.78" fill="#9a6420" stroke="#000000" stroke-width="1"/>
<rect x="1006.97" y="2241.29" width="5.97" height="1.23" fill="#620058"/>
<rect x="1013.44" y="2243.80" width="4.97" height="1.00" fill="#620058" stroke="#7a10a0" stroke-width="1"/>
<rect x="1012.94" y="2242.22" width="5.97" height="1.08" fill="#000000"/>
<rect x="1019.41" y="2242.56" width="4.97" height="2.24" fill="#9a6420" stroke="#000000" stroke-width="1"/>
<rect x="1018.91" y="2241.14" width="5.97" height="0.93" fill="#92c2f8"/>
<rect x="1024.88" y="2244.07" width="5.97" height="1.23" fill="#000000"/>
<rect x="1024.88" y="2242.68" width="5.97" height="1.39" fill="#620058"/>
<rect x="1024.88" y="2241.60" width="5.97" height="1.08" fill="#92c2f8"/>
<rect x="1031.35" y="2241.79" width="4.97" height="3.01" fill="#ffa040" stroke="#d87010" stroke-width="1"/>
<rect x="1030.85" y="2240.98" width="5.97" height="0.31" fill="#92c2f8"/>
<rect x="1037.32" y="2243.95" width="4.97" height="0.85" fill="#92c2f8" stroke="#2a90a8" stroke-width="1"/>
<rect x="1036.82" y="2242.83" width="5.97" height="0.62" fill="#000000"/>
<rect x="1042.79" y="2244.10" width="5.97" height="1.20" fill="#000000"/>
<rect x="1042.79" y="2243.30" width="5.97" height="0.80" fill="#92c2f8"/>
<rect x="1048.76" y="2244.11" width="5.97" height="1.19" fill="#000000"/>
<rect x="1048.76" y="2243.32" width="5.97" height="0.79" fill="#92c2f8"/>
<rect x="1055.23" y="2243.84" width="4.97" height="0.96" fill="#92c2f8" stroke="#2a90a8" stroke-width="1"/>
<rect x="1061.20" y="2243.86" width="4.97" height="0.94" fill="#ffff00" stroke="#b0a020" stroke-width="1"/>
<rect x="1067.17" y="2243.89" width="4.97" height="0.91" fill="#9a6420" stroke="#000000" stroke-width="1"/>
<rect x="1072.64" y="2244.17" width="5.97" height="1.13" fill="#000000"/>
<rect x="1072.64" y="2243.41" width="5.97" height="0.76" fill="#92c2f8"/>
<rect x="1078.61" y="2244.18" width="5.97" height="1.12" fill="#000000"/>
<rect x="1078.61" y="2243.43" width="5.97" height="0.75" fill="#92c2f8"/>
<rect x="1084.58" y="2244.19" width="5.97" height="1.11" fill="#000000"/>
<rect x="1084.58" y="2243.46" width="5.97" height="0.74" fill="#92c2f8"/>
<rect x="1090.55" y="2244.21" width="5.97" height="1.09" fill="#000000"/>
<rect x="1090.55" y="2243.48" width="5.97" height="0.73" fill="#92c2f8"/>
<rect x="1097.02" y="2244.00" width="4.97" height="0.80" fill="#92c2f8" stroke="#2a90a8" stroke-width="1"/>
<rect x="1102.99" y="2244.03" width="4.97" height="0.77" fill="#ffff00" stroke="#b0a020" stroke-width="1"/>
<rect x="1108.46" y="2244.25" width="5.97" height="1.05" fill="#000000"/>
<rect x="1108.46" y="2243.55" width="5.97" height="0.70" fill="#92c2f8"/>
<rect x="1114.93" y="2244.07" width="4.97" height="0.73" fill="#92c2f8" stroke="#2a90a8" stroke-width="1"/>
<rect x="1120.90" y="2244.10" width="4.97" height="0.70" fill="#00c000" stroke="#004800" stroke-width="1"/>
<rect x="1126.37" y="2244.29" width="5.97" height="1.01" fill="#000000"/>
<rect x="1126.37" y="2243.62" width="5.97" height="0.67" fill="#92c2f8"/>
<rect x="1132.34" y="2244.31" width="5.97" height="0.99" fill="#000000"/>
<rect x="1132.34" y="2243.64" width="5.97" height="0.66" fill="#92c2f8"/>
<rect x="1138.81" y="2244.17" width="4.97" height="0.63" fill="#620058" stroke="#7a10a0" stroke-width="1"/>
<rect x="1144.28" y="2244.33" width="5.97" height="0.97" fill="#000000"/>
<rect x="1144.28" y="2243.69" width="5.97" height="0.64" fill="#92c2f8"/>
<rect x="1150.25" y="2244.35" width="5.97" height="0.95" fill="#000000"/>
<rect x="1150.25" y="2243.71" width="5.97" height="0.64" fill="#92c2f8"/>
<rect x="1156.22" y="2244.36" width="5.97" height="0.94" fill="#000000"/>
<rect x="1156.22" y="2243.73" width="5.97" height="0.63" fill="#92c2f8"/>
<rect x="1162.19" y="2244.37" width="5.97" height="0.93" fill="#000000"/>
<rect x="1162.19" y="2243.76" width="5.97" height="0.62" fill="#92c2f8"/>
<rect x="1168.16" y="2243.78" width="5.97" height="1.52" fill="#ffff00"/>
<rect x="1174.13" y="2243.80" width="5.97" height="1.50" fill="#620058"/>
<rect x="1180.10" y="2244.42" width="5.97" height="0.88" fill="#000000"/>
<rect x="1180.10" y="2243.83" width="5.97" height="0.59" fill="#92c2f8"/>
<rect x="1186.07" y="2244.43" width="5.97" height="0.87" fill="#000000"/>
<rect x="1186.07" y="2243.85" width="5.97" height="0.58" fill="#92c2f8"/>
<rect x="1192.04" y="2244.44" width="5.97" height="0.86" fill="#000000"/>
<rect x="1192.04" y="2243.87" width="5.97" height="0.57" fill="#92c2f8"/>
<rect x="1198.01" y="2244.46" width="5.97" height="0.84" fill="#000000"/>
<rect x="1198.01" y="2243.90" width="5.97" height="0.56" fill="#92c2f8"/>
<rect x="1203.98" y="2244.47" width="5.97" height="0.83" fill="#000000"/>
<rect x="1203.98" y="2243.92" width="5.97" height="0.55" fill="#92c2f8"/>
<rect x="1209.95" y="2244.07" width="5.97" height="1.23" fill="#00c000"/>
<rect x="1215.92" y="2244.08" width="5.97" height="1.22" fill="#00c000"/>
<rect x="1221.89" y="2244.09" width="5.97" height="1.21" fill="#00c000"/>
<rect x="1227.86" y="2244.58" width="5.97" height="0.72" fill="#000000"/>
<rect x="1227.86" y="2244.10" width="5.97" height="0.48" fill="#92c2f8"/>
<rect x="1233.83" y="2244.59" width="5.97" height="0.71" fill="#000000"/>
<rect x="1233.83" y="2244.11" width="5.97" height="0.47" fill="#92c2f8"/>
<rect x="1239.80" y="2244.59" width="5.97" height="0.71" fill="#000000"/>
<rect x="1239.80" y="2244.12" width="5.97" height="0.47" fill="#92c2f8"/>
<rect x="1245.77" y="2244.14" width="5.97" height="1.16" fill="#92c2f8"/>
<rect x="1251.74" y="2244.15" width="5.97" height="1.15" fill="#000000"/>
<rect x="1257.71" y="2244.62" width="5.97" height="0.68" fill="#000000"/>
<rect x="1257.71" y="2244.16" width="5.97" height="0.46" fill="#92c2f8"/>
<rect x="1263.68" y="2244.62" width="5.97" height="0.68" fill="#000000"/>
<rect x="1263.68" y="2244.17" width="5.97" height="0.45" fill="#92c2f8"/>
<rect x="1269.65" y="2244.63" width="5.97" height="0.67" fill="#000000"/>
<rect x="1269.65" y="2244.18" width="5.97" height="0.45" fill="#92c2f8"/>
<rect x="1275.62" y="2244.19" width="5.97" height="1.11" fill="#92c2f8"/>
<rect x="1281.59" y="2244.64" width="5.97" height="0.66" fill="#000000"/>
<rect x="1281.59" y="2244.21" width="5.97" height="0.44" fill="#92c2f8"/>
<rect x="1287.56" y="2244.65" width="5.97" height="0.65" fill="#000000"/>
<rect x="1287.56" y="2244.22" width="5.97" height="0.43" fill="#92c2f8"/>
<rect x="1293.53" y="2244.23" width="5.97" height="1.07" fill="#620058"/>
<rect x="1299.50" y="2244.24" width="5.97" height="1.06" fill="#ffff00"/>
<rect x="1305.47" y="2244.25" width="5.97" height="1.05" fill="#ffff00"/>
<rect x="1311.44" y="2244.26" width="5.97" height="1.04" fill="#620058"/>
<rect x="1317.41" y="2244.27" width="5.97" height="1.03" fill="#620058"/>
<rect x="1323.38" y="2244.29" width="5.97" height="1.01" fill="#000000"/>
<rect x="1329.35" y="2244.30" width="5.97" height="1.00" fill="#92c2f8"/>
<rect x="1335.32" y="2244.31" width="5.97" height="0.99" fill="#ffa040"/>
<rect x="1341.29" y="2244.32" width="5.97" height="0.98" fill="#92c2f8"/>
<rect x="1347.26" y="2244.33" width="5.97" height="0.97" fill="#620058"/>
<rect x="1353.23" y="2244.34" width="5.97" height="0.96" fill="#00c000"/>
<rect x="1359.20" y="2244.36" width="5.97" height="0.94" fill="#00c000"/>
<rect x="1365.17" y="2244.37" width="5.97" height="0.93" fill="#ffff00"/>
<rect x="1371.14" y="2244.38" width="5.97" height="0.92" fill="#ffff00"/>
<rect x="1377.11" y="2244.39" width="5.97" height="0.91" fill="#00c000"/>
<rect x="1383.08" y="2244.40" width="5.97" height="0.90" fill="#620058"/>
<rect x="1389.05" y="2244.53" width="5.97" height="0.77" fill="#00c000"/>
<rect x="1400.99" y="2244.53" width="5.97" height="0.77" fill="#00c000"/>
<rect x="1406.96" y="2244.53" width="5.97" height="0.77" fill="#ffa040"/>
<rect x="1418.90" y="2244.53" width="5.97" height="0.77" fill="#620058"/>
<rect x="1424.87" y="2244.53" width="5.97" height="0.77" fill="#620058"/>
<rect x="1430.84" y="2244.53" width="5.97" height="0.77" fill="#620058"/>
<rect x="1436.81" y="2244.53" width="5.97" height="0.77" fill="#000000"/>
<rect x="1442.78" y="2244.53" width="5.97" height="0.77" fill="#620058"/>
<rect x="1448.75" y="2244.53" width="5.97" height="0.77" fill="#000000"/>
<rect x="1454.72" y="2244.53" width="5.97" height="0.77" fill="#000000"/>
<rect x="1466.66" y="2244.53" width="5.97" height="0.77" fill="#00c000"/>
<rect x="1496.51" y="2244.53" width="5.97" height="0.77" fill="#92c2f8"/>
<rect x="1502.48" y="2244.53" width="5.97" height="0.77" fill="#620058"/>
<line x1="290" y1="1628.1" x2="290" y2="2253.6" stroke="#000" stroke-width="2"/>
<line x1="289" y1="2252.7" x2="1593.6" y2="2252.7" stroke="#000" stroke-width="1.8"/>
<line x1="280.6" y1="2245.30" x2="290" y2="2245.30" stroke="#000" stroke-width="2"/>
<text x="259.87" y="2255.60" font-size="19.60" fill="#000">0</text>
<line x1="280.6" y1="2168.26" x2="290" y2="2168.26" stroke="#000" stroke-width="2"/>
<text x="222.41" y="2178.56" font-size="19.60" fill="#000" textLength="48.11" lengthAdjust="spacing">100</text>
<line x1="280.6" y1="2091.23" x2="290" y2="2091.23" stroke="#000" stroke-width="2"/>
<text x="222.91" y="2101.53" font-size="19.60" fill="#000" textLength="47.60" lengthAdjust="spacing">200</text>
<line x1="280.6" y1="2014.19" x2="290" y2="2014.19" stroke="#000" stroke-width="2"/>
<text x="223.15" y="2024.49" font-size="19.60" fill="#000" textLength="47.36" lengthAdjust="spacing">300</text>
<line x1="280.6" y1="1937.15" x2="290" y2="1937.15" stroke="#000" stroke-width="2"/>
<text x="223.45" y="1947.45" font-size="19.60" fill="#000" textLength="47.07" lengthAdjust="spacing">400</text>
<line x1="280.6" y1="1860.11" x2="290" y2="1860.11" stroke="#000" stroke-width="2"/>
<text x="223.12" y="1870.41" font-size="19.60" fill="#000" textLength="47.40" lengthAdjust="spacing">500</text>
<line x1="280.6" y1="1783.08" x2="290" y2="1783.08" stroke="#000" stroke-width="2"/>
<text x="222.90" y="1793.38" font-size="19.60" fill="#000" textLength="47.61" lengthAdjust="spacing">600</text>
<line x1="280.6" y1="1706.04" x2="290" y2="1706.04" stroke="#000" stroke-width="2"/>
<text x="222.90" y="1716.34" font-size="19.60" fill="#000" textLength="47.62" lengthAdjust="spacing">700</text>
<line x1="280.6" y1="1629.00" x2="290" y2="1629.00" stroke="#000" stroke-width="2"/>
<text x="223.05" y="1639.30" font-size="19.60" fill="#000" textLength="47.47" lengthAdjust="spacing">800</text>
<text x="202.28" y="1974.80" font-size="32.00" fill="#000" textLength="61.95" lengthAdjust="spacing" transform="rotate(-90 203.90 1974.80)">C M</text>
<rect x="443.0" y="1706.9" width="33.6" height="23.8" fill="#ff0000" stroke="#b00000" stroke-width="1.3"/>
<text x="495.75" y="1729.10" font-size="24.70" fill="#000" textLength="127.05" lengthAdjust="spacing">AKR1B1</text>
<rect x="443.0" y="1740.3" width="33.6" height="23.8" fill="#ffa040" stroke="#d87010" stroke-width="1.3"/>
<text x="495.75" y="1762.50" font-size="24.70" fill="#000" textLength="66.59" lengthAdjust="spacing">APC</text>
<rect x="641.3" y="1703.1" width="33.6" height="23.8" fill="#ffff00" stroke="#b0a020" stroke-width="1.3"/>
<text x="692.75" y="1724.70" font-size="24.70" fill="#000" textLength="115.60" lengthAdjust="spacing">CCND2</text>
<rect x="641.3" y="1736.8" width="33.6" height="23.8" fill="#9a6420" stroke="#000000" stroke-width="1.3"/>
<text x="692.75" y="1758.40" font-size="24.70" fill="#000" textLength="128.60" lengthAdjust="spacing">COL6A2</text>
<rect x="863.9" y="1704.8" width="33.6" height="23.8" fill="#f9a8ec" stroke="#8a108a" stroke-width="1.3"/>
<text x="914.57" y="1726.10" font-size="24.70" fill="#000" textLength="162.77" lengthAdjust="spacing">HIST1H3C</text>
<rect x="863.9" y="1739.4" width="33.6" height="23.8" fill="#efe7c9" stroke="#000000" stroke-width="1.3"/>
<text x="914.57" y="1760.70" font-size="24.70" fill="#000" textLength="113.65" lengthAdjust="spacing">HOXB4</text>
<rect x="1110.9" y="1706.1" width="33.6" height="23.8" fill="#620058" stroke="#7a10a0" stroke-width="1.3"/>
<text x="1160.67" y="1728.00" font-size="24.70" fill="#000" textLength="161.17" lengthAdjust="spacing">RASGRF2</text>
<rect x="1110.9" y="1741.4" width="33.6" height="23.8" fill="#00c000" stroke="#004800" stroke-width="1.3"/>
<text x="1160.67" y="1762.40" font-size="24.70" fill="#000" textLength="131.73" lengthAdjust="spacing">RASSF1</text>
<rect x="1354.6" y="1702.6" width="33.6" height="23.8" fill="#92c2f8" stroke="#2a90a8" stroke-width="1.3"/>
<text x="1406.35" y="1724.10" font-size="24.70" fill="#000" textLength="131.20" lengthAdjust="spacing">TMEFF2</text>
<rect x="1354.6" y="1737.0" width="33.6" height="23.8" fill="#0000ff" stroke="#000078" stroke-width="1.3"/>
<text x="1406.12" y="1758.40" font-size="24.70" fill="#000" textLength="118.09" lengthAdjust="spacing">ZNF671</text>
<text x="1119.97" y="2210.80" font-size="37.14" fill="#000">Threshold, 8.5 CM</text>
<text x="131.32" y="2302.00" font-size="38.77" fill="#000">Histopathology:</text>
<text x="430.57" y="2306.25" font-size="38.72" fill="#000">Malignant LN, N=108</text>
<text x="1091.82" y="2303.50" font-size="38.78" fill="#000">Benign LN, N=110</text>
<text x="34.26" y="2358.20" font-size="41.50" fill="#000">g</text>
<text x="499.89" y="2366.90" font-size="31.80" fill="#000">N=108</text>
<text x="1159.30" y="2369.60" font-size="31.65" fill="#000">N=110</text>
<text x="138.59" y="2403.10" font-size="28.21" fill="#000">BCDA</text>
<text x="31.19" y="2435.60" font-size="28.16" fill="#000">Histopathology</text>
<text x="106.67" y="2468.20" font-size="28.09" fill="#000">Cytology</text>
<rect x="228.30" y="2382.00" width="646.30" height="30.50" fill="#cc0000"/>
<rect x="814.76" y="2382.00" width="5.98" height="30.50" fill="#009a00"/>
<rect x="820.74" y="2382.00" width="5.98" height="30.50" fill="#009a00"/>
<rect x="826.73" y="2382.00" width="5.98" height="30.50" fill="#009a00"/>
<rect x="832.71" y="2382.00" width="5.98" height="30.50" fill="#009a00"/>
<rect x="838.69" y="2382.00" width="5.98" height="30.50" fill="#009a00"/>
<rect x="844.68" y="2382.00" width="5.98" height="30.50" fill="#009a00"/>
<rect x="850.66" y="2382.00" width="5.98" height="30.50" fill="#009a00"/>
<rect x="856.65" y="2382.00" width="5.98" height="30.50" fill="#009a00"/>
<rect x="862.63" y="2382.00" width="5.98" height="30.50" fill="#009a00"/>
<rect x="868.62" y="2382.00" width="5.98" height="30.50" fill="#009a00"/>
<rect x="228.30" y="2412.50" width="646.30" height="30.20" fill="#cc0000"/>
<rect x="228.30" y="2442.70" width="646.30" height="29.90" fill="#cc0000"/>
<rect x="342.00" y="2442.70" width="5.98" height="29.90" fill="#d6cc00"/>
<rect x="563.42" y="2442.70" width="5.98" height="29.90" fill="#009a00"/>
<rect x="581.37" y="2442.70" width="5.98" height="29.90" fill="#009a00"/>
<rect x="671.14" y="2442.70" width="5.98" height="29.90" fill="#009a00"/>
<rect x="689.09" y="2442.70" width="5.98" height="29.90" fill="#009a00"/>
<rect x="766.88" y="2442.70" width="5.98" height="29.90" fill="#009a00"/>
<rect x="790.82" y="2442.70" width="5.98" height="29.90" fill="#009a00"/>
<rect x="802.79" y="2442.70" width="5.98" height="29.90" fill="#d6cc00"/>
<rect x="808.77" y="2442.70" width="5.98" height="29.90" fill="#009a00"/>
<rect x="856.65" y="2442.70" width="5.98" height="29.90" fill="#009a00"/>
<path d="M234.28,2382V2472.6M240.27,2382V2472.6M246.25,2382V2472.6M252.24,2382V2472.6M258.22,2382V2472.6M264.21,2382V2472.6M270.19,2382V2472.6M276.17,2382V2472.6M282.16,2382V2472.6M288.14,2382V2472.6M294.13,2382V2472.6M300.11,2382V2472.6M306.10,2382V2472.6M312.08,2382V2472.6M318.06,2382V2472.6M324.05,2382V2472.6M330.03,2382V2472.6M336.02,2382V2472.6M342.00,2382V2472.6M347.99,2382V2472.6M353.97,2382V2472.6M359.95,2382V2472.6M365.94,2382V2472.6M371.92,2382V2472.6M377.91,2382V2472.6M383.89,2382V2472.6M389.88,2382V2472.6M395.86,2382V2472.6M401.84,2382V2472.6M407.83,2382V2472.6M413.81,2382V2472.6M419.80,2382V2472.6M425.78,2382V2472.6M431.76,2382V2472.6M437.75,2382V2472.6M443.73,2382V2472.6M449.72,2382V2472.6M455.70,2382V2472.6M461.69,2382V2472.6M467.67,2382V2472.6M473.65,2382V2472.6M479.64,2382V2472.6M485.62,2382V2472.6M491.61,2382V2472.6M497.59,2382V2472.6M503.58,2382V2472.6M509.56,2382V2472.6M515.54,2382V2472.6M521.53,2382V2472.6M527.51,2382V2472.6M533.50,2382V2472.6M539.48,2382V2472.6M545.47,2382V2472.6M551.45,2382V2472.6M557.43,2382V2472.6M563.42,2382V2472.6M569.40,2382V2472.6M575.39,2382V2472.6M581.37,2382V2472.6M587.36,2382V2472.6M593.34,2382V2472.6M599.32,2382V2472.6M605.31,2382V2472.6M611.29,2382V2472.6M617.28,2382V2472.6M623.26,2382V2472.6M629.25,2382V2472.6M635.23,2382V2472.6M641.21,2382V2472.6M647.20,2382V2472.6M653.18,2382V2472.6M659.17,2382V2472.6M665.15,2382V2472.6M671.14,2382V2472.6M677.12,2382V2472.6M683.10,2382V2472.6M689.09,2382V2472.6M695.07,2382V2472.6M701.06,2382V2472.6M707.04,2382V2472.6M713.02,2382V2472.6M719.01,2382V2472.6M724.99,2382V2472.6M730.98,2382V2472.6M736.96,2382V2472.6M742.95,2382V2472.6M748.93,2382V2472.6M754.91,2382V2472.6M760.90,2382V2472.6M766.88,2382V2472.6M772.87,2382V2472.6M778.85,2382V2472.6M784.84,2382V2472.6M790.82,2382V2472.6M796.80,2382V2472.6M802.79,2382V2472.6M808.77,2382V2472.6M814.76,2382V2472.6M820.74,2382V2472.6M826.73,2382V2472.6M832.71,2382V2472.6M838.69,2382V2472.6M844.68,2382V2472.6M850.66,2382V2472.6M856.65,2382V2472.6M862.63,2382V2472.6M868.62,2382V2472.6" stroke="#000" stroke-opacity="0.22" stroke-width="0.8" fill="none"/>
<line x1="228.30" y1="2412.50" x2="874.60" y2="2412.50" stroke="#000" stroke-opacity="0.75" stroke-width="0.9"/>
<line x1="228.30" y1="2442.70" x2="874.60" y2="2442.70" stroke="#000" stroke-opacity="0.75" stroke-width="0.9"/>
<line x1="228.30" y1="2379.5" x2="870.60" y2="2379.5" stroke="#111" stroke-width="1.6"/>
<line x1="228.30" y1="2381.1" x2="870.60" y2="2381.1" stroke="#999" stroke-width="1.4"/>
<rect x="880.80" y="2382.00" width="658.30" height="30.50" fill="#009a00"/>
<rect x="880.80" y="2382.00" width="5.98" height="30.50" fill="#cc0000"/>
<rect x="880.80" y="2412.50" width="658.30" height="30.20" fill="#009a00"/>
<rect x="880.80" y="2442.70" width="658.30" height="29.90" fill="#009a00"/>
<rect x="886.78" y="2442.70" width="5.98" height="29.90" fill="#d6cc00"/>
<rect x="1012.46" y="2442.70" width="5.98" height="29.90" fill="#d6cc00"/>
<rect x="1090.26" y="2442.70" width="5.98" height="29.90" fill="#cc0000"/>
<rect x="1144.12" y="2442.70" width="5.98" height="29.90" fill="#d6cc00"/>
<rect x="1186.01" y="2442.70" width="5.98" height="29.90" fill="#d6cc00"/>
<rect x="1371.53" y="2442.70" width="5.98" height="29.90" fill="#cc0000"/>
<rect x="1521.15" y="2442.70" width="5.98" height="29.90" fill="#cc0000"/>
<rect x="1527.13" y="2442.70" width="5.98" height="29.90" fill="#cc0000"/>
<rect x="1533.12" y="2442.70" width="5.98" height="29.90" fill="#cc0000"/>
<path d="M886.78,2382V2472.6M892.77,2382V2472.6M898.75,2382V2472.6M904.74,2382V2472.6M910.72,2382V2472.6M916.71,2382V2472.6M922.69,2382V2472.6M928.68,2382V2472.6M934.66,2382V2472.6M940.65,2382V2472.6M946.63,2382V2472.6M952.61,2382V2472.6M958.60,2382V2472.6M964.58,2382V2472.6M970.57,2382V2472.6M976.55,2382V2472.6M982.54,2382V2472.6M988.52,2382V2472.6M994.51,2382V2472.6M1000.49,2382V2472.6M1006.48,2382V2472.6M1012.46,2382V2472.6M1018.44,2382V2472.6M1024.43,2382V2472.6M1030.41,2382V2472.6M1036.40,2382V2472.6M1042.38,2382V2472.6M1048.37,2382V2472.6M1054.35,2382V2472.6M1060.34,2382V2472.6M1066.32,2382V2472.6M1072.31,2382V2472.6M1078.29,2382V2472.6M1084.27,2382V2472.6M1090.26,2382V2472.6M1096.24,2382V2472.6M1102.23,2382V2472.6M1108.21,2382V2472.6M1114.20,2382V2472.6M1120.18,2382V2472.6M1126.17,2382V2472.6M1132.15,2382V2472.6M1138.14,2382V2472.6M1144.12,2382V2472.6M1150.10,2382V2472.6M1156.09,2382V2472.6M1162.07,2382V2472.6M1168.06,2382V2472.6M1174.04,2382V2472.6M1180.03,2382V2472.6M1186.01,2382V2472.6M1192.00,2382V2472.6M1197.98,2382V2472.6M1203.97,2382V2472.6M1209.95,2382V2472.6M1215.93,2382V2472.6M1221.92,2382V2472.6M1227.90,2382V2472.6M1233.89,2382V2472.6M1239.87,2382V2472.6M1245.86,2382V2472.6M1251.84,2382V2472.6M1257.83,2382V2472.6M1263.81,2382V2472.6M1269.80,2382V2472.6M1275.78,2382V2472.6M1281.76,2382V2472.6M1287.75,2382V2472.6M1293.73,2382V2472.6M1299.72,2382V2472.6M1305.70,2382V2472.6M1311.69,2382V2472.6M1317.67,2382V2472.6M1323.66,2382V2472.6M1329.64,2382V2472.6M1335.63,2382V2472.6M1341.61,2382V2472.6M1347.59,2382V2472.6M1353.58,2382V2472.6M1359.56,2382V2472.6M1365.55,2382V2472.6M1371.53,2382V2472.6M1377.52,2382V2472.6M1383.50,2382V2472.6M1389.49,2382V2472.6M1395.47,2382V2472.6M1401.46,2382V2472.6M1407.44,2382V2472.6M1413.42,2382V2472.6M1419.41,2382V2472.6M1425.39,2382V2472.6M1431.38,2382V2472.6M1437.36,2382V2472.6M1443.35,2382V2472.6M1449.33,2382V2472.6M1455.32,2382V2472.6M1461.30,2382V2472.6M1467.29,2382V2472.6M1473.27,2382V2472.6M1479.25,2382V2472.6M1485.24,2382V2472.6M1491.22,2382V2472.6M1497.21,2382V2472.6M1503.19,2382V2472.6M1509.18,2382V2472.6M1515.16,2382V2472.6M1521.15,2382V2472.6M1527.13,2382V2472.6M1533.12,2382V2472.6" stroke="#000" stroke-opacity="0.22" stroke-width="0.8" fill="none"/>
<line x1="880.80" y1="2412.50" x2="1539.10" y2="2412.50" stroke="#000" stroke-opacity="0.75" stroke-width="0.9"/>
<line x1="880.80" y1="2442.70" x2="1539.10" y2="2442.70" stroke="#000" stroke-opacity="0.75" stroke-width="0.9"/>
<line x1="880.80" y1="2379.5" x2="1539.10" y2="2379.5" stroke="#111" stroke-width="1.6"/>
<line x1="880.80" y1="2381.1" x2="1539.10" y2="2381.1" stroke="#999" stroke-width="1.4"/>
<rect x="1558" y="2380.1" width="24.5" height="24.4" fill="#ff0000" stroke="#900000" stroke-width="1"/>
<rect x="1558" y="2413.7" width="24.5" height="24.1" fill="#00e000" stroke="#006000" stroke-width="1"/>
<rect x="1558" y="2447.5" width="24.5" height="25" fill="#ffff00" stroke="#a08000" stroke-width="1"/>
<text x="1586.58" y="2405.80" font-size="31.88" fill="#000">Malignant</text>
<text x="1586.54" y="2438.90" font-size="32.39" fill="#000">Benign</text>
<text x="1587.55" y="2477.50" font-size="32.00" fill="#000">Indeterminate</text>
</svg></body></html>
